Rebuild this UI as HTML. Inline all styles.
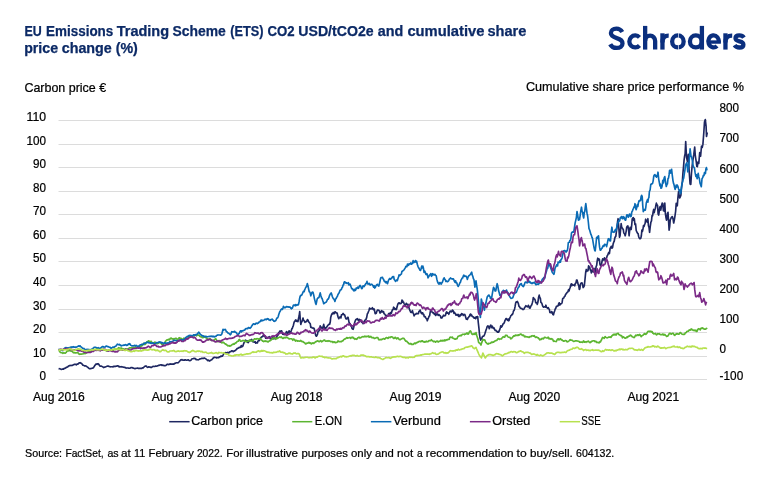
<!DOCTYPE html>
<html lang="en"><head><meta charset="utf-8"><title>EU ETS carbon price and cumulative share price change</title>
<style>html,body{margin:0;padding:0;background:#fff;}body{width:770px;height:482px;overflow:hidden;font-family:"Liberation Sans", sans-serif;}svg{display:block;will-change:transform;}text{font-family:"Liberation Sans", sans-serif;}</style>
</head><body>
<svg width="770" height="482" viewBox="0 0 770 482">
<rect width="770" height="482" fill="#ffffff"/>
<text x="24.4" y="35.7" font-size="13.80" fill="#0c2a66" text-anchor="start" font-weight="bold" textLength="17.3" lengthAdjust="spacingAndGlyphs" stroke="#0c2a66" stroke-width="0.25">EU</text>
<text x="46.1" y="35.7" font-size="13.80" fill="#0c2a66" text-anchor="start" font-weight="bold" textLength="67.2" lengthAdjust="spacingAndGlyphs" stroke="#0c2a66" stroke-width="0.25">Emissions</text>
<text x="116.7" y="35.7" font-size="13.80" fill="#0c2a66" text-anchor="start" font-weight="bold" textLength="52.4" lengthAdjust="spacingAndGlyphs" stroke="#0c2a66" stroke-width="0.25">Trading</text>
<text x="172.5" y="35.7" font-size="13.80" fill="#0c2a66" text-anchor="start" font-weight="bold" textLength="53.3" lengthAdjust="spacingAndGlyphs" stroke="#0c2a66" stroke-width="0.25">Scheme</text>
<text x="230.3" y="35.7" font-size="13.80" fill="#0c2a66" text-anchor="start" font-weight="bold" textLength="33.3" lengthAdjust="spacingAndGlyphs" stroke="#0c2a66" stroke-width="0.25">(ETS)</text>
<text x="267.5" y="35.7" font-size="13.80" fill="#0c2a66" text-anchor="start" font-weight="bold" textLength="27.1" lengthAdjust="spacingAndGlyphs" stroke="#0c2a66" stroke-width="0.25">CO2</text>
<text x="298.3" y="35.7" font-size="13.80" fill="#0c2a66" text-anchor="start" font-weight="bold" textLength="75.3" lengthAdjust="spacingAndGlyphs" stroke="#0c2a66" stroke-width="0.25">USD/tCO2e</text>
<text x="377.8" y="35.7" font-size="13.80" fill="#0c2a66" text-anchor="start" font-weight="bold" textLength="25.5" lengthAdjust="spacingAndGlyphs" stroke="#0c2a66" stroke-width="0.25">and</text>
<text x="407.4" y="35.7" font-size="13.80" fill="#0c2a66" text-anchor="start" font-weight="bold" textLength="77.0" lengthAdjust="spacingAndGlyphs" stroke="#0c2a66" stroke-width="0.25">cumulative</text>
<text x="487.4" y="35.7" font-size="13.80" fill="#0c2a66" text-anchor="start" font-weight="bold" textLength="38.9" lengthAdjust="spacingAndGlyphs" stroke="#0c2a66" stroke-width="0.25">share</text>
<text x="24.2" y="53.2" font-size="13.80" fill="#0c2a66" text-anchor="start" font-weight="bold" textLength="33.9" lengthAdjust="spacingAndGlyphs" stroke="#0c2a66" stroke-width="0.25">price</text>
<text x="61.7" y="53.2" font-size="13.80" fill="#0c2a66" text-anchor="start" font-weight="bold" textLength="50.1" lengthAdjust="spacingAndGlyphs" stroke="#0c2a66" stroke-width="0.25">change</text>
<text x="115.7" y="53.2" font-size="13.80" fill="#0c2a66" text-anchor="start" font-weight="bold" textLength="22.2" lengthAdjust="spacingAndGlyphs" stroke="#0c2a66" stroke-width="0.25">(%)</text>
<g fill="none" stroke="#0b2f7e" stroke-width="4.30" stroke-linecap="butt" stroke-linejoin="round">
<path d="M622.3,32.0 C621.0,29.8 619.0,28.55 616.4,28.55 C613.1,28.55 610.9,30.4 610.9,33.1 C610.9,36.0 613.2,37.1 616.7,38.1 C620.3,39.1 622.5,40.4 622.5,43.4 C622.5,46.2 620.1,47.95 616.6,47.95 C613.6,47.95 611.4,46.6 610.2,44.2"/>
<path d="M639.48,37.36 A5.85,6.00 0 1 0 639.48,45.54"/>
<path d="M645.15,25.9 L645.15,49.6"/>
<path d="M645.15,41.0 A5,5.4 0 0 1 655.15,41.0 L655.15,49.6"/>
<path d="M662.45,33.3 L662.45,49.6"/>
<path d="M662.45,42.5 C662.45,37.6 664.8,35.5 668.7,35.6"/>
<ellipse cx="677.9" cy="41.45" rx="5.75" ry="6.00"/>
<ellipse cx="695.8" cy="41.45" rx="5.85" ry="6.00"/>
<path d="M701.9,25.9 L701.9,49.6"/>
<path d="M718.75,42.45 A5.25,6.00 0 1 0 717.01,45.91"/>
<path d="M708.25,42.05 L720.85,42.05" stroke-width="3.4"/>
<path d="M725.45,33.3 L725.45,49.6"/>
<path d="M725.45,42.5 C725.45,37.6 727.8,35.5 732.2,35.6"/>
<path d="M743.9,37.6 C742.9,36.1 741.3,35.45 739.3,35.45 C736.9,35.45 735.5,36.6 735.5,38.3 C735.5,40.2 737.0,40.8 739.5,41.4 C742.0,42.0 743.4,42.9 743.4,44.7 C743.4,46.5 741.8,47.5 739.4,47.5 C737.3,47.5 735.6,46.7 734.6,45.1"/>
</g>
<rect x="678.1" y="33" width="0.65" height="4.8" fill="#fff"/>
<rect x="678.1" y="45.1" width="0.65" height="4.8" fill="#fff"/>
<text x="24.4" y="91.9" font-size="12.20" fill="#000" text-anchor="start" font-weight="normal" textLength="81.8" lengthAdjust="spacingAndGlyphs" stroke="#000" stroke-width="0.22">Carbon price €</text>
<text x="525.9" y="91.2" font-size="12.20" fill="#000" text-anchor="start" font-weight="normal" textLength="218.0" lengthAdjust="spacingAndGlyphs" stroke="#000" stroke-width="0.22">Cumulative share price performance %</text>
<line x1="58.5" x2="707" y1="120.5" y2="120.5" stroke="#dcdcdc" stroke-width="1"/>
<line x1="58.5" x2="707" y1="144.5" y2="144.5" stroke="#dcdcdc" stroke-width="1"/>
<line x1="58.5" x2="707" y1="167.5" y2="167.5" stroke="#dcdcdc" stroke-width="1"/>
<line x1="58.5" x2="707" y1="191.5" y2="191.5" stroke="#dcdcdc" stroke-width="1"/>
<line x1="58.5" x2="707" y1="214.5" y2="214.5" stroke="#dcdcdc" stroke-width="1"/>
<line x1="58.5" x2="707" y1="238.5" y2="238.5" stroke="#dcdcdc" stroke-width="1"/>
<line x1="58.5" x2="707" y1="261.5" y2="261.5" stroke="#dcdcdc" stroke-width="1"/>
<line x1="58.5" x2="707" y1="285.5" y2="285.5" stroke="#dcdcdc" stroke-width="1"/>
<line x1="58.5" x2="707" y1="309.5" y2="309.5" stroke="#dcdcdc" stroke-width="1"/>
<line x1="58.5" x2="707" y1="332.5" y2="332.5" stroke="#dcdcdc" stroke-width="1"/>
<line x1="58.5" x2="707" y1="356.5" y2="356.5" stroke="#dcdcdc" stroke-width="1"/>
<line x1="58.5" x2="707" y1="379.5" y2="379.5" stroke="#dcdcdc" stroke-width="1"/>
<text x="46.1" y="121.0" font-size="12.10" fill="#000" text-anchor="end" font-weight="normal" textLength="19.5" lengthAdjust="spacingAndGlyphs" stroke="#000" stroke-width="0.22">110</text>
<text x="46.1" y="145.0" font-size="12.10" fill="#000" text-anchor="end" font-weight="normal" textLength="19.5" lengthAdjust="spacingAndGlyphs" stroke="#000" stroke-width="0.22">100</text>
<text x="46.1" y="168.0" font-size="12.10" fill="#000" text-anchor="end" font-weight="normal" textLength="13.0" lengthAdjust="spacingAndGlyphs" stroke="#000" stroke-width="0.22">90</text>
<text x="46.1" y="192.0" font-size="12.10" fill="#000" text-anchor="end" font-weight="normal" textLength="13.0" lengthAdjust="spacingAndGlyphs" stroke="#000" stroke-width="0.22">80</text>
<text x="46.1" y="215.0" font-size="12.10" fill="#000" text-anchor="end" font-weight="normal" textLength="13.0" lengthAdjust="spacingAndGlyphs" stroke="#000" stroke-width="0.22">70</text>
<text x="46.1" y="239.0" font-size="12.10" fill="#000" text-anchor="end" font-weight="normal" textLength="13.0" lengthAdjust="spacingAndGlyphs" stroke="#000" stroke-width="0.22">60</text>
<text x="46.1" y="262.0" font-size="12.10" fill="#000" text-anchor="end" font-weight="normal" textLength="13.0" lengthAdjust="spacingAndGlyphs" stroke="#000" stroke-width="0.22">50</text>
<text x="46.1" y="286.0" font-size="12.10" fill="#000" text-anchor="end" font-weight="normal" textLength="13.0" lengthAdjust="spacingAndGlyphs" stroke="#000" stroke-width="0.22">40</text>
<text x="46.1" y="310.0" font-size="12.10" fill="#000" text-anchor="end" font-weight="normal" textLength="13.0" lengthAdjust="spacingAndGlyphs" stroke="#000" stroke-width="0.22">30</text>
<text x="46.1" y="333.0" font-size="12.10" fill="#000" text-anchor="end" font-weight="normal" textLength="13.0" lengthAdjust="spacingAndGlyphs" stroke="#000" stroke-width="0.22">20</text>
<text x="46.1" y="357.0" font-size="12.10" fill="#000" text-anchor="end" font-weight="normal" textLength="13.0" lengthAdjust="spacingAndGlyphs" stroke="#000" stroke-width="0.22">10</text>
<text x="46.1" y="380.0" font-size="12.10" fill="#000" text-anchor="end" font-weight="normal" textLength="6.5" lengthAdjust="spacingAndGlyphs" stroke="#000" stroke-width="0.22">0</text>
<text x="719.6" y="111.9" font-size="12.10" fill="#000" text-anchor="start" font-weight="normal" textLength="19.5" lengthAdjust="spacingAndGlyphs" stroke="#000" stroke-width="0.22">800</text>
<text x="719.6" y="141.8" font-size="12.10" fill="#000" text-anchor="start" font-weight="normal" textLength="19.5" lengthAdjust="spacingAndGlyphs" stroke="#000" stroke-width="0.22">700</text>
<text x="719.6" y="172.8" font-size="12.10" fill="#000" text-anchor="start" font-weight="normal" textLength="19.5" lengthAdjust="spacingAndGlyphs" stroke="#000" stroke-width="0.22">600</text>
<text x="719.6" y="202.9" font-size="12.10" fill="#000" text-anchor="start" font-weight="normal" textLength="19.5" lengthAdjust="spacingAndGlyphs" stroke="#000" stroke-width="0.22">500</text>
<text x="719.6" y="232.8" font-size="12.10" fill="#000" text-anchor="start" font-weight="normal" textLength="19.5" lengthAdjust="spacingAndGlyphs" stroke="#000" stroke-width="0.22">400</text>
<text x="719.6" y="263.0" font-size="12.10" fill="#000" text-anchor="start" font-weight="normal" textLength="19.5" lengthAdjust="spacingAndGlyphs" stroke="#000" stroke-width="0.22">300</text>
<text x="719.6" y="293.1" font-size="12.10" fill="#000" text-anchor="start" font-weight="normal" textLength="19.5" lengthAdjust="spacingAndGlyphs" stroke="#000" stroke-width="0.22">200</text>
<text x="719.6" y="323.0" font-size="12.10" fill="#000" text-anchor="start" font-weight="normal" textLength="19.5" lengthAdjust="spacingAndGlyphs" stroke="#000" stroke-width="0.22">100</text>
<text x="719.6" y="352.9" font-size="12.10" fill="#000" text-anchor="start" font-weight="normal" textLength="6.5" lengthAdjust="spacingAndGlyphs" stroke="#000" stroke-width="0.22">0</text>
<text x="719.6" y="379.8" font-size="12.10" fill="#000" text-anchor="start" font-weight="normal" textLength="23.6" lengthAdjust="spacingAndGlyphs" stroke="#000" stroke-width="0.22">-100</text>
<text x="58.8" y="400.5" font-size="12.20" fill="#000" text-anchor="middle" font-weight="normal" textLength="51.8" lengthAdjust="spacingAndGlyphs" stroke="#000" stroke-width="0.22">Aug 2016</text>
<text x="177.7" y="400.5" font-size="12.20" fill="#000" text-anchor="middle" font-weight="normal" textLength="51.8" lengthAdjust="spacingAndGlyphs" stroke="#000" stroke-width="0.22">Aug 2017</text>
<text x="296.6" y="400.5" font-size="12.20" fill="#000" text-anchor="middle" font-weight="normal" textLength="51.8" lengthAdjust="spacingAndGlyphs" stroke="#000" stroke-width="0.22">Aug 2018</text>
<text x="415.5" y="400.5" font-size="12.20" fill="#000" text-anchor="middle" font-weight="normal" textLength="51.8" lengthAdjust="spacingAndGlyphs" stroke="#000" stroke-width="0.22">Aug 2019</text>
<text x="534.4" y="400.5" font-size="12.20" fill="#000" text-anchor="middle" font-weight="normal" textLength="51.8" lengthAdjust="spacingAndGlyphs" stroke="#000" stroke-width="0.22">Aug 2020</text>
<text x="653.3" y="400.5" font-size="12.20" fill="#000" text-anchor="middle" font-weight="normal" textLength="51.8" lengthAdjust="spacingAndGlyphs" stroke="#000" stroke-width="0.22">Aug 2021</text>
<path d="M58.60 368.40 L59.16 368.64 L59.72 368.85 L60.28 369.05 L60.84 369.16 L61.40 369.40 L61.91 369.25 L62.43 369.28 L62.94 368.95 L63.46 369.26 L63.97 368.52 L64.49 368.38 L65.00 368.40 L65.54 368.04 L66.08 367.57 L66.61 367.24 L67.15 367.06 L67.69 367.01 L68.22 366.35 L68.76 366.08 L69.30 365.60 L69.84 365.74 L70.38 365.50 L70.91 365.42 L71.45 365.58 L71.99 365.38 L72.52 365.32 L73.06 365.00 L73.60 364.80 L74.14 364.42 L74.67 364.31 L75.21 364.29 L75.75 364.22 L76.29 364.90 L76.83 364.41 L77.36 363.93 L77.90 364.10 L78.45 363.63 L79.00 363.04 L79.55 362.73 L80.10 362.70 L80.66 363.07 L81.22 363.19 L81.78 363.65 L82.34 364.48 L82.90 365.10 L83.48 365.29 L84.06 365.61 L84.64 365.92 L85.22 365.75 L85.80 366.10 L86.31 366.30 L86.83 366.64 L87.34 366.91 L87.86 367.33 L88.37 367.92 L88.89 368.27 L89.40 368.70 L89.91 368.74 L90.43 368.71 L90.94 368.45 L91.46 368.48 L91.97 368.27 L92.49 368.09 L93.00 368.00 L93.56 367.56 L94.12 366.62 L94.68 365.78 L95.24 365.07 L95.80 364.10 L96.35 364.06 L96.90 364.33 L97.45 363.77 L98.00 363.70 L98.53 363.94 L99.05 364.92 L99.57 365.51 L100.10 366.10 L100.61 366.23 L101.13 366.15 L101.64 366.33 L102.16 366.56 L102.67 366.73 L103.19 367.28 L103.70 367.60 L104.24 367.30 L104.78 367.10 L105.31 367.05 L105.85 366.67 L106.39 366.51 L106.92 366.26 L107.46 366.18 L108.00 366.10 L108.54 366.10 L109.08 366.55 L109.61 366.57 L110.15 366.88 L110.69 366.79 L111.22 366.73 L111.76 366.74 L112.30 366.80 L112.82 366.86 L113.34 366.41 L113.85 366.66 L114.37 366.27 L114.89 366.49 L115.41 366.41 L115.93 366.18 L116.45 366.26 L116.96 366.02 L117.48 365.90 L118.00 365.80 L118.54 366.54 L119.08 366.36 L119.61 366.85 L120.15 366.84 L120.69 366.73 L121.22 366.66 L121.76 366.99 L122.30 367.00 L122.84 366.90 L123.38 367.11 L123.91 367.24 L124.45 367.53 L124.99 367.37 L125.52 367.75 L126.06 368.07 L126.60 368.00 L127.13 367.94 L127.65 368.04 L128.18 368.00 L128.71 368.16 L129.24 368.29 L129.76 368.29 L130.29 368.06 L130.82 367.65 L131.35 367.72 L131.87 367.46 L132.40 367.70 L132.91 368.08 L133.41 368.11 L133.92 368.30 L134.42 368.57 L134.93 368.75 L135.44 368.53 L135.94 368.34 L136.45 368.26 L136.95 368.29 L137.46 368.13 L137.96 368.18 L138.47 368.45 L138.98 368.39 L139.48 368.40 L139.99 368.22 L140.49 368.21 L141.00 368.40 L141.54 368.39 L142.07 368.17 L142.61 367.74 L143.15 367.88 L143.69 367.18 L144.23 366.81 L144.76 366.37 L145.30 366.10 L145.81 366.17 L146.31 366.01 L146.82 366.78 L147.33 367.20 L147.84 367.33 L148.34 367.16 L148.85 366.75 L149.36 366.96 L149.86 367.10 L150.37 367.15 L150.88 367.42 L151.39 367.47 L151.89 367.09 L152.40 366.60 L152.93 366.45 L153.45 366.41 L153.98 366.48 L154.51 366.48 L155.04 366.37 L155.56 366.11 L156.09 366.17 L156.62 366.28 L157.15 366.07 L157.67 365.77 L158.20 365.60 L158.74 365.31 L159.27 365.33 L159.81 364.99 L160.35 365.03 L160.89 364.78 L161.43 364.86 L161.96 365.42 L162.50 365.10 L163.03 365.03 L163.57 365.54 L164.10 365.67 L164.63 365.63 L165.17 365.66 L165.70 365.50 L166.23 365.16 L166.75 364.52 L167.28 364.34 L167.81 364.19 L168.34 364.48 L168.86 364.56 L169.39 364.16 L169.92 364.29 L170.45 363.96 L170.97 364.28 L171.50 364.00 L172.04 364.17 L172.57 364.14 L173.11 363.94 L173.65 364.18 L174.19 364.05 L174.73 363.29 L175.26 363.34 L175.80 363.00 L176.36 362.76 L176.92 362.71 L177.48 362.81 L178.04 362.74 L178.60 362.30 L179.15 361.71 L179.70 360.97 L180.25 360.51 L180.80 359.90 L181.31 360.00 L181.83 359.59 L182.34 359.75 L182.86 360.20 L183.37 360.20 L183.89 359.96 L184.40 360.20 L184.94 359.84 L185.47 359.75 L186.01 360.14 L186.55 360.28 L187.09 360.16 L187.62 360.00 L188.16 359.76 L188.70 360.20 L189.24 360.55 L189.77 360.73 L190.31 360.42 L190.85 360.22 L191.39 359.59 L191.93 358.87 L192.46 358.78 L193.00 358.70 L193.53 358.48 L194.05 358.27 L194.57 358.64 L195.10 358.40 L195.62 359.04 L196.15 359.72 L196.67 359.57 L197.20 359.70 L197.74 359.76 L198.27 359.84 L198.81 359.57 L199.35 359.25 L199.89 358.88 L200.43 358.81 L200.96 358.76 L201.50 358.40 L202.04 358.32 L202.57 358.39 L203.11 358.43 L203.65 358.38 L204.19 358.01 L204.73 358.15 L205.26 358.55 L205.80 358.70 L206.31 359.33 L206.82 359.65 L207.33 360.09 L207.84 360.58 L208.35 360.05 L208.86 360.48 L209.37 361.04 L209.88 360.82 L210.39 360.36 L210.90 360.20 L211.40 359.83 L211.90 359.68 L212.40 358.86 L212.90 358.52 L213.40 357.81 L213.90 357.63 L214.40 357.30 L214.94 357.52 L215.47 357.46 L216.01 357.42 L216.55 357.92 L217.09 357.62 L217.62 357.75 L218.16 357.67 L218.70 357.70 L219.24 356.89 L219.77 356.84 L220.31 356.71 L220.85 356.09 L221.39 356.38 L221.93 355.96 L222.46 356.07 L223.00 355.10 L223.55 354.05 L224.10 352.95 L224.65 353.07 L225.20 352.70 L225.71 352.57 L226.23 352.73 L226.74 352.72 L227.26 352.70 L227.77 352.31 L228.29 352.78 L228.80 353.00 L229.36 352.15 L229.92 351.84 L230.48 351.80 L231.04 351.44 L231.60 350.80 L232.14 350.86 L232.68 350.97 L233.21 351.71 L233.75 351.18 L234.29 351.10 L234.82 350.84 L235.36 350.33 L235.90 350.10 L236.41 349.38 L236.93 348.95 L237.44 348.21 L237.96 348.34 L238.47 348.11 L238.99 347.57 L239.50 347.30 L240.08 347.51 L240.66 347.18 L241.24 345.61 L241.82 346.80 L242.40 346.50 L242.96 345.85 L243.52 344.04 L244.08 342.61 L244.64 341.50 L245.20 340.50 L245.71 340.22 L246.23 341.51 L246.74 341.08 L247.26 340.90 L247.77 342.40 L248.29 342.56 L248.80 341.50 L249.38 340.89 L249.96 340.21 L250.54 340.08 L251.12 340.38 L251.70 339.40 L252.28 340.93 L252.86 341.74 L253.44 341.88 L254.02 342.06 L254.60 342.20 L255.16 341.62 L255.72 343.08 L256.28 343.05 L256.84 342.63 L257.40 343.00 L257.98 341.04 L258.56 340.61 L259.14 340.75 L259.72 339.92 L260.30 338.70 L260.88 337.54 L261.46 337.01 L262.04 336.78 L262.62 336.62 L263.20 335.40 L263.70 336.00 L264.20 335.30 L264.70 335.86 L265.20 336.99 L265.70 338.21 L266.20 337.91 L266.70 337.20 L267.22 338.30 L267.74 337.92 L268.26 337.34 L268.78 337.19 L269.30 336.60 L269.84 337.70 L270.38 338.83 L270.91 339.00 L271.45 338.66 L271.99 338.95 L272.53 337.27 L273.06 338.59 L273.60 338.80 L274.14 338.04 L274.68 338.31 L275.21 338.78 L275.75 338.51 L276.29 337.81 L276.82 336.52 L277.36 335.81 L277.90 335.20 L278.44 333.22 L278.97 332.33 L279.51 331.83 L280.05 330.85 L280.59 331.78 L281.12 331.10 L281.66 330.79 L282.20 333.00 L282.74 334.27 L283.27 334.26 L283.81 334.49 L284.35 334.26 L284.89 334.36 L285.43 334.12 L285.96 332.83 L286.50 331.60 L287.01 331.97 L287.53 333.16 L288.04 333.08 L288.56 332.01 L289.07 330.74 L289.59 331.72 L290.10 333.00 L290.66 332.40 L291.22 330.82 L291.78 328.91 L292.34 328.34 L292.90 326.60 L293.45 325.19 L294.00 322.57 L294.55 321.49 L295.10 320.80 L295.68 319.84 L296.26 321.29 L296.84 320.34 L297.42 321.46 L298.00 321.60 L298.57 318.25 L299.13 316.00 L299.70 311.50 L300.25 319.05 L300.80 324.40 L301.35 322.51 L301.90 321.56 L302.45 320.34 L303.00 318.00 L303.52 320.24 L304.05 320.48 L304.58 321.81 L305.10 322.30 L305.68 321.64 L306.26 321.77 L306.84 321.05 L307.42 319.55 L308.00 320.10 L308.56 321.87 L309.12 322.25 L309.68 323.00 L310.24 323.69 L310.80 327.30 L311.38 327.00 L311.96 327.90 L312.54 328.05 L313.12 328.31 L313.70 328.00 L314.25 328.73 L314.80 331.13 L315.35 333.93 L315.90 335.90 L316.42 336.20 L316.95 335.34 L317.48 334.36 L318.00 331.60 L318.55 331.18 L319.10 330.87 L319.65 328.34 L320.20 325.90 L320.73 327.60 L321.25 327.16 L321.77 328.18 L322.30 328.70 L323.00 327.18 L323.70 324.40 L324.20 326.83 L324.70 328.52 L325.20 328.70 L325.76 327.64 L326.32 327.94 L326.88 326.81 L327.44 326.09 L328.00 325.10 L328.55 324.72 L329.10 324.21 L329.65 324.31 L330.20 322.30 L330.70 317.58 L331.20 315.80 L331.72 314.26 L332.24 313.26 L332.76 313.99 L333.28 312.41 L333.80 313.40 L334.36 313.71 L334.92 311.73 L335.48 312.04 L336.04 312.52 L336.60 313.00 L337.15 312.96 L337.70 315.84 L338.25 317.57 L338.80 318.70 L339.32 317.66 L339.85 317.01 L340.38 316.92 L340.90 318.00 L341.45 314.83 L342.00 314.69 L342.55 314.49 L343.10 313.40 L343.66 314.62 L344.22 314.69 L344.78 315.18 L345.34 317.28 L345.90 318.70 L346.45 318.98 L347.00 318.75 L347.55 317.30 L348.10 317.30 L348.62 320.07 L349.15 322.83 L349.68 324.35 L350.20 323.70 L350.78 325.82 L351.36 325.48 L351.94 328.40 L352.52 329.05 L353.10 329.40 L353.65 327.46 L354.20 325.05 L354.75 322.24 L355.30 320.80 L355.82 319.62 L356.35 319.38 L356.88 318.99 L357.40 318.70 L357.98 319.78 L358.56 320.86 L359.14 319.41 L359.72 319.45 L360.30 320.10 L360.86 320.10 L361.42 321.86 L361.98 322.38 L362.54 322.23 L363.10 323.70 L363.68 322.39 L364.26 321.33 L364.84 320.58 L365.42 319.60 L366.00 319.40 L366.70 317.37 L367.40 313.70 L367.95 312.95 L368.50 311.48 L369.05 310.23 L369.60 308.00 L370.16 309.00 L370.72 308.84 L371.28 308.81 L371.84 308.44 L372.40 307.70 L372.95 309.12 L373.50 309.66 L374.05 308.82 L374.60 310.83 L375.15 313.58 L375.70 313.60 L376.25 313.33 L376.80 311.37 L377.35 310.31 L377.90 310.00 L378.42 310.27 L378.95 310.40 L379.48 311.15 L380.00 312.90 L380.58 312.81 L381.16 311.31 L381.74 310.65 L382.32 312.01 L382.90 311.50 L383.48 311.53 L384.06 313.69 L384.64 313.91 L385.22 314.83 L385.80 315.80 L386.36 315.45 L386.92 316.18 L387.48 316.16 L388.04 315.84 L388.60 313.60 L389.18 314.21 L389.76 314.70 L390.34 312.47 L390.92 313.64 L391.50 312.90 L392.02 310.82 L392.55 309.53 L393.08 309.59 L393.60 307.20 L394.18 307.89 L394.76 309.30 L395.34 308.61 L395.92 309.70 L396.50 309.30 L397.08 306.75 L397.66 304.87 L398.24 303.32 L398.82 302.88 L399.40 302.90 L399.91 303.68 L400.43 303.57 L400.94 303.40 L401.46 302.85 L401.97 300.15 L402.49 300.44 L403.00 302.20 L403.52 302.05 L404.05 303.48 L404.58 304.69 L405.10 305.70 L405.68 304.79 L406.26 303.38 L406.84 303.98 L407.42 304.79 L408.00 304.30 L408.52 306.77 L409.05 307.94 L409.58 309.71 L410.10 310.80 L410.68 312.21 L411.26 312.46 L411.84 312.34 L412.42 310.61 L413.00 312.90 L413.54 313.81 L414.07 315.84 L414.61 314.60 L415.15 314.45 L415.69 314.21 L416.23 313.42 L416.76 313.55 L417.30 313.60 L417.86 313.76 L418.42 313.66 L418.98 311.27 L419.54 311.24 L420.10 310.00 L420.61 311.70 L421.13 312.78 L421.64 313.72 L422.16 312.75 L422.67 312.86 L423.19 314.39 L423.70 314.30 L424.21 316.63 L424.73 316.39 L425.24 316.69 L425.76 317.88 L426.27 318.63 L426.79 318.87 L427.30 320.80 L427.88 319.10 L428.46 317.89 L429.04 316.26 L429.62 315.85 L430.20 312.20 L430.76 309.96 L431.32 310.47 L431.88 311.97 L432.44 312.22 L433.00 312.90 L433.54 312.67 L434.07 313.82 L434.61 314.37 L435.15 313.59 L435.69 315.43 L436.23 314.81 L436.76 312.97 L437.30 314.30 L437.81 314.72 L438.33 315.37 L438.84 314.37 L439.36 315.20 L439.87 315.58 L440.39 315.86 L440.90 317.90 L441.41 317.49 L441.93 318.01 L442.44 316.90 L442.96 316.42 L443.47 315.22 L443.99 315.41 L444.50 315.80 L445.04 315.71 L445.57 314.98 L446.11 312.77 L446.65 311.83 L447.19 313.18 L447.73 312.86 L448.26 312.97 L448.80 314.30 L449.31 313.00 L449.83 311.77 L450.34 311.04 L450.86 311.18 L451.37 311.92 L451.89 311.56 L452.40 310.00 L452.91 310.62 L453.43 311.31 L453.94 313.34 L454.46 312.41 L454.97 313.31 L455.49 313.93 L456.00 315.10 L456.50 314.60 L457.00 315.15 L457.50 314.70 L458.00 314.28 L458.50 316.38 L459.00 314.93 L459.50 316.50 L460.05 316.05 L460.60 314.71 L461.15 315.02 L461.70 313.60 L462.22 314.08 L462.74 313.97 L463.25 315.45 L463.77 314.68 L464.29 314.79 L464.81 314.46 L465.33 315.94 L465.85 317.66 L466.36 319.28 L466.88 319.23 L467.40 319.40 L467.94 317.81 L468.47 317.70 L469.01 316.52 L469.55 316.12 L470.09 314.35 L470.62 314.03 L471.16 315.72 L471.70 315.10 L472.28 316.46 L472.86 316.70 L473.44 317.02 L474.02 318.16 L474.60 317.90 L475.12 317.52 L475.63 318.72 L476.15 316.90 L476.67 317.74 L477.18 316.57 L477.70 316.50 L478.30 322.71 L478.90 327.90 L479.45 333.78 L480.00 338.00 L480.70 340.10 L481.20 338.52 L481.70 338.74 L482.20 337.20 L482.73 336.26 L483.25 336.23 L483.77 336.18 L484.30 335.10 L484.85 333.71 L485.40 331.90 L485.95 330.20 L486.50 328.70 L487.20 326.51 L487.90 325.80 L488.60 326.55 L489.30 328.70 L489.80 327.56 L490.30 325.58 L490.80 325.10 L491.32 326.35 L491.85 327.76 L492.38 326.17 L492.90 327.90 L493.48 328.29 L494.06 327.94 L494.64 329.61 L495.22 330.42 L495.80 330.10 L496.36 331.10 L496.92 331.49 L497.48 332.10 L498.04 331.49 L498.60 332.20 L499.15 331.20 L499.70 329.63 L500.25 327.89 L500.80 325.80 L501.38 327.14 L501.96 326.54 L502.54 325.10 L503.12 323.87 L503.70 323.60 L504.26 322.87 L504.82 320.96 L505.38 319.77 L505.94 318.58 L506.50 318.60 L507.05 319.77 L507.60 320.28 L508.15 319.05 L508.70 320.80 L509.23 320.09 L509.75 318.03 L510.27 317.10 L510.80 315.80 L511.35 315.17 L511.90 314.44 L512.45 314.57 L513.00 312.90 L513.52 310.89 L514.05 310.55 L514.58 308.92 L515.10 306.40 L515.65 303.01 L516.20 301.75 L516.75 302.23 L517.30 301.40 L517.86 302.39 L518.42 303.72 L518.98 306.34 L519.54 306.50 L520.10 307.90 L520.68 308.26 L521.26 308.47 L521.84 308.44 L522.42 309.41 L523.00 309.30 L523.58 309.39 L524.16 308.70 L524.74 307.39 L525.32 306.69 L525.90 305.70 L526.40 306.42 L526.90 306.29 L527.40 306.79 L527.90 306.45 L528.40 305.27 L528.90 306.28 L529.40 307.90 L529.98 308.25 L530.56 306.92 L531.14 305.50 L531.72 304.95 L532.30 302.90 L532.80 300.95 L533.30 297.50 L533.93 298.66 L534.57 298.92 L535.20 300.20 L535.73 302.75 L536.25 302.79 L536.77 302.74 L537.30 304.40 L537.93 302.03 L538.57 297.41 L539.20 295.10 L539.77 297.60 L540.33 298.08 L540.90 302.30 L541.42 302.75 L541.95 303.65 L542.48 305.60 L543.00 306.60 L543.58 307.16 L544.16 306.88 L544.74 306.82 L545.32 307.07 L545.90 305.20 L546.48 307.51 L547.06 307.47 L547.64 308.29 L548.22 307.61 L548.80 308.70 L549.36 309.43 L549.92 312.54 L550.48 312.00 L551.04 312.86 L551.60 311.60 L552.23 312.37 L552.87 314.47 L553.50 314.80 L554.07 312.42 L554.63 311.02 L555.20 309.00 L555.78 308.35 L556.36 306.39 L556.94 306.36 L557.52 305.87 L558.10 305.90 L558.68 303.76 L559.26 302.79 L559.84 305.10 L560.42 304.29 L561.00 303.70 L561.56 303.71 L562.12 302.47 L562.68 298.61 L563.24 298.19 L563.80 298.00 L564.38 296.47 L564.96 296.25 L565.54 294.49 L566.12 293.98 L566.70 293.00 L567.28 292.20 L567.86 292.03 L568.44 289.90 L569.02 290.95 L569.60 288.70 L570.16 287.53 L570.72 285.28 L571.28 283.74 L571.84 285.78 L572.40 284.40 L572.98 284.92 L573.56 285.28 L574.14 285.11 L574.72 285.81 L575.30 283.50 L575.90 283.10 L576.50 280.15 L577.10 280.10 L577.65 282.56 L578.20 284.39 L578.75 285.70 L579.30 289.40 L579.82 288.86 L580.35 284.55 L580.88 283.19 L581.40 283.00 L581.98 282.78 L582.56 284.78 L583.14 287.54 L583.72 286.97 L584.30 285.90 L585.00 279.28 L585.70 272.20 L586.28 269.45 L586.86 271.40 L587.44 270.36 L588.02 270.62 L588.60 265.80 L589.15 267.25 L589.70 267.14 L590.25 270.00 L590.80 270.10 L591.32 272.88 L591.85 270.15 L592.38 271.75 L592.90 268.70 L593.45 271.96 L594.00 268.37 L594.55 271.12 L595.10 274.40 L595.62 269.84 L596.15 266.36 L596.68 265.43 L597.20 260.80 L597.75 258.20 L598.30 260.07 L598.85 258.92 L599.40 259.40 L599.92 264.23 L600.45 265.51 L600.98 264.53 L601.50 264.40 L602.08 261.00 L602.66 258.88 L603.24 260.12 L603.82 259.70 L604.40 257.90 L604.96 259.74 L605.52 261.45 L606.08 258.70 L606.64 257.67 L607.20 255.80 L607.75 255.11 L608.30 253.38 L608.85 252.26 L609.40 253.60 L610.10 248.33 L610.80 247.20 L611.38 246.28 L611.96 248.19 L612.54 247.68 L613.12 244.08 L613.70 242.20 L614.23 241.24 L614.75 238.24 L615.27 236.92 L615.80 236.40 L616.60 230.10 L617.10 226.49 L617.60 221.35 L618.10 218.70 L618.80 227.45 L619.50 237.30 L620.05 235.69 L620.60 229.51 L621.15 223.65 L621.70 227.20 L622.23 227.93 L622.75 228.88 L623.27 229.32 L623.80 233.00 L624.50 233.76 L625.20 235.80 L625.70 233.59 L626.20 231.11 L626.70 227.20 L627.30 226.31 L627.90 225.94 L628.50 229.09 L629.10 235.80 L629.62 231.01 L630.14 227.41 L630.66 227.90 L631.18 229.47 L631.70 225.10 L632.22 218.95 L632.74 218.08 L633.26 217.57 L633.78 220.32 L634.30 218.70 L634.93 224.54 L635.57 223.90 L636.20 230.50 L636.83 231.84 L637.47 233.13 L638.10 233.70 L638.65 236.53 L639.20 237.97 L639.75 238.59 L640.30 238.70 L640.82 238.17 L641.35 235.74 L641.88 230.05 L642.40 231.50 L642.94 229.31 L643.48 225.56 L644.02 226.58 L644.56 224.77 L645.10 223.50 L645.66 219.20 L646.22 221.45 L646.78 220.70 L647.34 222.17 L647.90 218.70 L648.47 225.85 L649.03 227.47 L649.60 232.30 L650.23 226.59 L650.87 222.28 L651.50 220.90 L652.05 215.54 L652.60 215.87 L653.15 211.67 L653.70 209.40 L654.23 212.62 L654.75 210.02 L655.27 208.72 L655.80 205.80 L656.38 203.18 L656.96 204.72 L657.54 205.32 L658.12 213.96 L658.70 215.10 L659.23 211.41 L659.75 207.38 L660.27 206.51 L660.80 210.10 L661.50 205.84 L662.20 203.00 L662.80 203.67 L663.40 210.80 L664.10 211.03 L664.80 203.00 L665.37 213.49 L665.93 217.38 L666.50 220.20 L667.00 218.81 L667.50 213.63 L668.00 212.30 L668.55 220.75 L669.10 230.20 L669.67 226.68 L670.23 219.89 L670.80 218.70 L671.30 217.58 L671.80 216.86 L672.30 216.60 L673.00 218.69 L673.70 223.00 L674.40 219.62 L675.10 215.10 L675.65 211.09 L676.20 203.34 L676.75 206.00 L677.30 205.80 L677.93 197.54 L678.57 191.60 L679.20 195.80 L679.77 197.98 L680.33 196.71 L680.90 195.10 L681.40 188.76 L681.90 185.25 L682.40 181.00 L682.95 172.81 L683.50 167.20 L684.05 160.32 L684.60 156.20 L685.15 153.56 L685.70 141.60 L686.50 157.20 L687.40 161.70 L688.30 154.40 L689.20 171.80 L690.10 184.00 L690.80 184.42 L691.50 172.70 L692.15 165.76 L692.80 160.80 L693.30 157.67 L693.80 154.40 L694.70 147.10 L695.25 155.09 L695.80 159.00 L696.30 162.24 L696.80 166.30 L697.35 166.55 L697.90 162.20 L698.80 163.50 L699.70 152.60 L700.60 156.20 L701.50 146.20 L702.20 147.48 L702.90 144.40 L703.80 132.80 L704.50 121.90 L705.30 119.60 L706.10 126.40 L706.50 136.50 L707.30 132.40" fill="none" stroke="#1e2761" stroke-width="1.65" stroke-linejoin="round" stroke-linecap="butt"/>
<path d="M58.60 350.80 L59.16 350.86 L59.72 351.49 L60.28 352.33 L60.84 352.65 L61.40 352.70 L61.91 352.74 L62.43 352.96 L62.94 353.38 L63.46 353.05 L63.97 352.69 L64.49 352.98 L65.00 353.20 L65.58 352.90 L66.16 352.42 L66.74 351.60 L67.32 350.71 L67.90 350.80 L68.44 350.88 L68.98 350.78 L69.51 350.56 L70.05 350.78 L70.59 351.01 L71.12 351.07 L71.66 351.23 L72.20 351.50 L72.74 351.98 L73.28 352.59 L73.81 352.90 L74.35 352.53 L74.89 353.00 L75.42 352.77 L75.96 352.95 L76.50 352.70 L77.04 352.79 L77.58 352.62 L78.11 352.77 L78.65 353.92 L79.19 353.99 L79.72 354.34 L80.26 354.01 L80.80 354.00 L81.34 354.10 L81.88 353.97 L82.41 353.99 L82.95 353.91 L83.49 353.50 L84.02 353.57 L84.56 353.21 L85.10 353.70 L85.64 353.15 L86.17 352.99 L86.71 352.60 L87.25 352.52 L87.79 351.94 L88.33 351.89 L88.86 351.46 L89.40 351.50 L89.92 351.46 L90.44 351.25 L90.95 350.72 L91.47 350.73 L91.99 350.64 L92.51 350.96 L93.03 350.57 L93.55 350.51 L94.06 350.44 L94.58 350.28 L95.10 350.10 L95.62 349.97 L96.14 349.56 L96.65 348.99 L97.17 348.65 L97.69 348.67 L98.21 349.03 L98.73 349.19 L99.25 349.38 L99.76 349.47 L100.28 349.53 L100.80 349.40 L101.31 349.53 L101.81 350.03 L102.32 349.76 L102.82 349.35 L103.33 349.91 L103.84 349.85 L104.34 350.05 L104.85 350.21 L105.35 349.64 L105.86 350.38 L106.36 350.87 L106.87 350.78 L107.38 350.90 L107.88 350.79 L108.39 350.31 L108.89 350.12 L109.40 350.10 L109.91 350.35 L110.41 350.46 L110.92 350.33 L111.42 350.67 L111.93 350.24 L112.44 350.38 L112.94 350.64 L113.45 350.38 L113.95 349.57 L114.46 349.08 L114.96 349.02 L115.47 349.07 L115.98 349.49 L116.48 348.97 L116.99 348.82 L117.49 348.91 L118.00 348.70 L118.51 347.67 L119.01 347.83 L119.52 348.57 L120.02 348.80 L120.53 348.32 L121.04 348.03 L121.54 347.97 L122.05 348.77 L122.55 348.86 L123.06 348.76 L123.56 349.21 L124.07 349.04 L124.58 349.59 L125.08 349.20 L125.59 348.88 L126.09 349.01 L126.60 349.40 L127.11 349.55 L127.63 349.56 L128.14 348.79 L128.66 348.43 L129.17 348.11 L129.69 347.81 L130.20 347.94 L130.71 347.72 L131.23 347.92 L131.74 347.86 L132.26 347.64 L132.77 347.59 L133.29 347.66 L133.80 347.90 L134.31 347.60 L134.83 347.40 L135.34 346.76 L135.86 347.28 L136.37 347.74 L136.89 347.56 L137.40 347.26 L137.91 346.65 L138.43 346.61 L138.94 346.58 L139.46 347.36 L139.97 347.35 L140.49 346.92 L141.00 345.80 L141.52 346.01 L142.04 345.71 L142.55 344.66 L143.07 344.36 L143.59 343.29 L144.11 344.43 L144.63 344.55 L145.15 344.43 L145.66 343.98 L146.18 342.63 L146.70 342.20 L147.24 341.58 L147.77 341.96 L148.31 341.07 L148.85 340.74 L149.39 341.41 L149.93 342.28 L150.46 341.82 L151.00 341.20 L151.58 342.01 L152.16 342.81 L152.74 342.74 L153.32 342.82 L153.90 342.90 L154.44 342.35 L154.97 342.03 L155.51 342.58 L156.05 342.87 L156.59 343.78 L157.12 343.73 L157.66 343.65 L158.20 343.20 L158.71 343.21 L159.22 342.70 L159.72 341.97 L160.23 342.36 L160.74 343.07 L161.25 343.51 L161.76 344.17 L162.27 344.36 L162.78 344.11 L163.28 344.22 L163.79 344.12 L164.30 343.70 L164.84 342.48 L165.38 341.34 L165.91 340.87 L166.45 340.46 L166.99 339.77 L167.53 339.97 L168.06 339.59 L168.60 339.40 L169.14 339.89 L169.68 339.38 L170.21 338.29 L170.75 338.56 L171.29 338.10 L171.82 338.65 L172.36 338.71 L172.90 339.10 L173.42 339.54 L173.94 338.56 L174.45 338.97 L174.97 338.69 L175.49 338.37 L176.01 338.21 L176.53 338.65 L177.05 339.15 L177.56 339.72 L178.08 338.94 L178.60 338.70 L179.14 337.71 L179.68 337.87 L180.21 338.39 L180.75 338.22 L181.29 338.55 L181.82 338.88 L182.36 339.60 L182.90 339.40 L183.43 338.76 L183.95 338.15 L184.48 338.80 L185.01 339.13 L185.54 338.83 L186.06 338.72 L186.59 338.55 L187.12 338.43 L187.65 338.09 L188.17 337.69 L188.70 336.80 L189.22 336.29 L189.74 337.00 L190.25 337.12 L190.77 336.99 L191.29 336.70 L191.81 336.57 L192.33 336.59 L192.85 336.07 L193.36 336.01 L193.88 335.98 L194.40 335.40 L194.94 335.33 L195.47 335.14 L196.01 334.92 L196.55 335.77 L197.09 334.84 L197.62 335.05 L198.16 335.08 L198.70 335.10 L199.21 335.42 L199.73 336.31 L200.24 336.62 L200.76 336.81 L201.27 336.75 L201.79 336.95 L202.30 337.70 L202.80 337.77 L203.30 337.44 L203.80 337.06 L204.30 336.76 L204.80 336.32 L205.30 337.15 L205.80 337.60 L206.30 337.75 L206.80 338.76 L207.30 338.70 L207.82 339.30 L208.34 339.92 L208.85 339.37 L209.37 338.81 L209.89 338.57 L210.41 339.23 L210.93 340.09 L211.45 339.71 L211.96 340.44 L212.48 340.47 L213.00 340.50 L213.52 340.35 L214.04 340.32 L214.55 339.56 L215.07 339.20 L215.59 338.72 L216.11 339.07 L216.63 340.20 L217.15 341.62 L217.66 341.58 L218.18 340.88 L218.70 340.80 L219.24 340.51 L219.77 341.62 L220.31 342.05 L220.85 341.87 L221.39 342.47 L221.93 342.88 L222.46 342.28 L223.00 342.20 L223.51 342.51 L224.03 342.94 L224.54 343.43 L225.06 343.70 L225.57 344.20 L226.09 344.37 L226.60 344.40 L227.11 345.25 L227.63 345.59 L228.14 345.97 L228.66 345.49 L229.17 345.61 L229.69 346.15 L230.20 345.80 L230.71 345.83 L231.23 345.25 L231.74 345.00 L232.26 344.52 L232.77 344.20 L233.29 344.30 L233.80 343.70 L234.36 344.14 L234.92 343.54 L235.48 342.87 L236.04 342.94 L236.60 342.20 L237.18 341.43 L237.76 341.25 L238.34 341.22 L238.92 339.76 L239.50 339.40 L240.04 340.45 L240.57 341.15 L241.11 341.15 L241.65 340.97 L242.19 340.94 L242.73 340.49 L243.26 340.48 L243.80 340.50 L244.31 340.65 L244.83 341.43 L245.34 341.54 L245.86 341.06 L246.37 341.78 L246.89 341.49 L247.40 341.50 L247.94 341.30 L248.47 341.00 L249.01 340.39 L249.55 340.13 L250.09 341.03 L250.62 340.60 L251.16 340.40 L251.70 340.80 L252.20 340.86 L252.70 340.94 L253.20 341.06 L253.70 339.81 L254.20 339.10 L254.70 338.87 L255.20 338.82 L255.70 339.17 L256.20 339.11 L256.70 338.70 L257.20 338.76 L257.70 338.69 L258.20 338.85 L258.70 339.22 L259.20 339.09 L259.70 338.72 L260.20 338.34 L260.70 338.91 L261.20 339.58 L261.70 340.10 L262.22 340.61 L262.74 341.10 L263.25 341.19 L263.77 341.61 L264.29 341.19 L264.81 341.19 L265.33 340.93 L265.85 341.36 L266.36 341.18 L266.88 341.22 L267.40 341.50 L268.03 342.00 L268.67 341.48 L269.30 340.90 L269.82 341.03 L270.34 340.25 L270.85 340.21 L271.37 339.68 L271.89 339.37 L272.41 338.21 L272.93 338.31 L273.45 337.80 L273.96 337.10 L274.48 337.89 L275.00 338.00 L275.54 339.31 L276.07 339.03 L276.61 338.37 L277.15 337.93 L277.69 338.28 L278.23 337.77 L278.76 337.52 L279.30 337.30 L279.83 337.05 L280.35 337.34 L280.88 337.31 L281.41 336.89 L281.94 337.56 L282.46 338.14 L282.99 338.40 L283.52 338.16 L284.05 337.35 L284.57 337.82 L285.10 338.00 L285.62 337.41 L286.14 337.66 L286.65 337.16 L287.17 337.43 L287.69 337.78 L288.21 338.24 L288.73 338.63 L289.25 338.99 L289.76 338.69 L290.28 338.78 L290.80 338.80 L291.32 338.76 L291.84 338.98 L292.35 339.36 L292.87 340.26 L293.39 339.06 L293.91 339.34 L294.43 339.32 L294.95 340.51 L295.46 341.05 L295.98 340.33 L296.50 340.60 L297.02 340.52 L297.54 341.18 L298.05 340.85 L298.57 340.97 L299.09 341.09 L299.61 341.21 L300.13 341.11 L300.65 340.42 L301.16 340.81 L301.68 341.46 L302.20 341.60 L302.73 341.43 L303.25 341.83 L303.78 342.39 L304.31 342.61 L304.84 342.91 L305.36 343.86 L305.89 343.65 L306.42 343.70 L306.95 343.14 L307.47 343.13 L308.00 343.10 L308.52 342.65 L309.04 342.32 L309.55 343.11 L310.07 343.00 L310.59 342.93 L311.11 343.90 L311.63 343.85 L312.15 343.06 L312.66 343.22 L313.18 342.79 L313.70 343.50 L314.22 342.91 L314.74 342.62 L315.25 341.87 L315.77 341.88 L316.29 341.39 L316.81 341.32 L317.33 341.12 L317.85 340.80 L318.36 341.20 L318.88 341.60 L319.40 341.60 L319.94 341.14 L320.47 340.61 L321.01 340.70 L321.55 341.80 L322.09 341.55 L322.62 341.13 L323.16 340.76 L323.70 340.20 L324.23 339.97 L324.75 340.11 L325.28 341.04 L325.81 341.28 L326.34 341.28 L326.86 340.74 L327.39 341.08 L327.92 341.31 L328.45 340.96 L328.97 340.68 L329.50 340.90 L330.00 341.35 L330.50 341.61 L331.00 341.67 L331.50 341.48 L332.00 341.59 L332.50 341.55 L333.00 342.52 L333.50 341.96 L334.00 341.75 L334.50 342.30 L335.01 342.08 L335.53 342.64 L336.04 342.52 L336.56 342.48 L337.07 342.21 L337.59 341.46 L338.10 340.90 L338.62 341.62 L339.14 341.59 L339.65 341.55 L340.17 341.67 L340.69 341.61 L341.21 341.77 L341.73 341.30 L342.25 340.86 L342.76 341.00 L343.28 340.49 L343.80 339.50 L344.34 339.25 L344.88 338.84 L345.41 339.00 L345.95 338.50 L346.49 337.82 L347.03 337.52 L347.56 338.17 L348.10 338.00 L348.62 337.86 L349.14 337.64 L349.65 337.57 L350.17 337.82 L350.69 338.31 L351.21 337.24 L351.73 337.72 L352.25 337.49 L352.76 337.10 L353.28 338.11 L353.80 337.80 L354.33 338.78 L354.85 339.26 L355.38 338.71 L355.91 338.94 L356.44 339.30 L356.96 339.21 L357.49 337.99 L358.02 337.79 L358.55 337.67 L359.07 337.08 L359.60 338.00 L360.14 337.87 L360.68 337.66 L361.21 337.50 L361.75 337.08 L362.29 336.67 L362.82 336.72 L363.36 336.87 L363.90 336.60 L364.44 336.73 L364.97 336.17 L365.51 336.63 L366.05 336.41 L366.59 336.70 L367.12 336.40 L367.66 336.31 L368.20 336.60 L368.72 335.87 L369.25 337.08 L369.77 336.97 L370.30 336.84 L370.82 336.37 L371.35 337.11 L371.88 337.74 L372.40 337.80 L372.95 337.48 L373.50 337.61 L374.05 338.32 L374.60 338.44 L375.15 338.22 L375.70 338.00 L376.24 337.66 L376.77 337.73 L377.31 337.46 L377.85 337.52 L378.39 338.99 L378.93 339.93 L379.46 339.47 L380.00 339.70 L380.53 339.58 L381.05 339.35 L381.58 339.71 L382.11 339.39 L382.64 339.06 L383.16 338.72 L383.69 338.51 L384.22 339.00 L384.75 339.23 L385.27 338.39 L385.80 338.00 L386.32 337.52 L386.84 337.88 L387.35 337.92 L387.87 338.32 L388.39 338.22 L388.91 337.16 L389.43 337.33 L389.95 337.38 L390.46 337.58 L390.98 336.82 L391.50 336.80 L392.02 336.93 L392.54 337.05 L393.05 337.73 L393.57 338.41 L394.09 338.43 L394.61 338.03 L395.13 337.24 L395.65 337.43 L396.16 338.50 L396.68 338.96 L397.20 338.30 L397.71 337.85 L398.23 338.06 L398.74 338.90 L399.26 339.49 L399.77 339.67 L400.29 339.76 L400.80 339.22 L401.31 338.98 L401.83 338.81 L402.34 338.41 L402.86 338.43 L403.37 338.23 L403.89 338.39 L404.40 339.10 L404.94 340.04 L405.47 340.82 L406.01 341.27 L406.55 341.12 L407.09 341.63 L407.62 342.46 L408.16 342.57 L408.70 343.70 L409.24 343.66 L409.77 343.92 L410.31 343.88 L410.85 343.43 L411.39 344.44 L411.93 344.04 L412.46 344.54 L413.00 344.40 L413.51 344.20 L414.01 343.54 L414.52 343.04 L415.03 343.13 L415.54 343.67 L416.04 342.98 L416.55 342.67 L417.06 342.78 L417.56 342.17 L418.07 342.18 L418.58 341.51 L419.09 341.47 L419.59 341.35 L420.10 341.60 L420.61 341.71 L421.13 341.08 L421.64 341.33 L422.16 340.75 L422.67 341.04 L423.19 341.68 L423.70 341.90 L424.21 341.57 L424.73 342.07 L425.24 342.08 L425.76 341.44 L426.27 341.21 L426.79 341.81 L427.30 341.60 L427.81 341.67 L428.33 341.52 L428.84 340.74 L429.36 340.51 L429.87 340.68 L430.39 340.79 L430.90 340.72 L431.41 339.73 L431.93 340.31 L432.44 340.66 L432.96 341.15 L433.47 341.77 L433.99 341.57 L434.50 341.30 L435.01 341.45 L435.51 342.25 L436.02 341.45 L436.53 341.35 L437.04 341.01 L437.54 341.28 L438.05 341.98 L438.56 341.85 L439.06 341.26 L439.57 341.29 L440.08 341.15 L440.59 340.42 L441.09 340.85 L441.60 340.60 L442.11 340.96 L442.63 340.36 L443.14 340.92 L443.66 340.26 L444.17 340.80 L444.69 339.96 L445.20 340.66 L445.71 340.51 L446.23 339.78 L446.74 339.70 L447.26 339.90 L447.77 339.44 L448.29 339.23 L448.80 339.40 L449.31 339.17 L449.83 337.51 L450.34 337.15 L450.86 337.22 L451.37 337.23 L451.89 337.59 L452.40 337.10 L452.91 338.24 L453.43 338.49 L453.94 338.51 L454.46 338.91 L454.97 339.25 L455.49 339.16 L456.00 338.70 L456.52 338.84 L457.04 338.67 L457.55 337.32 L458.07 336.36 L458.59 336.23 L459.11 335.90 L459.63 335.67 L460.15 335.63 L460.66 335.33 L461.18 335.80 L461.70 335.10 L462.24 334.46 L462.77 334.21 L463.31 334.20 L463.85 334.21 L464.39 334.62 L464.93 333.93 L465.46 334.16 L466.00 334.00 L466.54 333.21 L467.07 332.92 L467.61 333.92 L468.15 334.17 L468.69 333.69 L469.23 332.07 L469.76 331.43 L470.30 330.80 L470.81 331.26 L471.33 333.05 L471.84 333.91 L472.36 334.50 L472.87 334.37 L473.39 334.11 L473.90 334.40 L474.42 333.45 L474.95 334.46 L475.48 333.54 L476.00 332.50 L476.70 335.31 L477.40 337.50 L478.00 339.26 L478.60 342.30 L479.20 342.95 L479.80 343.15 L480.40 344.09 L481.00 345.10 L481.63 342.87 L482.27 341.10 L482.90 339.40 L483.46 339.96 L484.02 339.95 L484.58 339.79 L485.14 340.73 L485.70 342.30 L486.21 342.63 L486.72 343.14 L487.23 343.86 L487.74 343.74 L488.25 344.09 L488.76 343.27 L489.27 343.45 L489.78 343.50 L490.29 343.33 L490.80 343.00 L491.34 342.28 L491.88 342.12 L492.41 342.49 L492.95 342.10 L493.49 342.13 L494.03 341.60 L494.56 341.50 L495.10 340.80 L495.64 340.74 L496.18 340.40 L496.71 340.32 L497.25 339.79 L497.79 338.98 L498.32 338.58 L498.86 338.86 L499.40 339.40 L499.94 338.90 L500.47 338.96 L501.01 339.01 L501.55 338.87 L502.09 337.74 L502.62 337.56 L503.16 336.72 L503.70 337.00 L504.26 337.09 L504.82 337.10 L505.38 335.43 L505.94 335.44 L506.50 335.50 L507.01 335.28 L507.53 336.29 L508.04 336.81 L508.56 337.20 L509.07 337.30 L509.59 337.25 L510.10 337.50 L510.60 338.82 L511.10 338.64 L511.60 338.46 L512.10 337.83 L512.60 337.21 L513.10 336.63 L513.60 335.87 L514.10 336.05 L514.60 335.62 L515.10 335.80 L515.62 335.05 L516.14 335.43 L516.65 335.30 L517.17 335.54 L517.69 335.36 L518.21 334.75 L518.73 335.29 L519.25 334.93 L519.76 334.73 L520.28 334.11 L520.80 334.10 L521.31 334.27 L521.83 334.81 L522.34 335.38 L522.86 335.39 L523.37 335.00 L523.89 335.62 L524.40 336.50 L524.90 336.86 L525.40 336.24 L525.90 336.54 L526.40 336.74 L526.90 336.87 L527.40 337.09 L527.90 336.90 L528.40 337.00 L528.90 337.48 L529.40 337.20 L529.93 336.54 L530.45 336.58 L530.98 336.77 L531.51 335.90 L532.04 335.63 L532.56 336.04 L533.09 336.05 L533.62 336.19 L534.15 335.62 L534.67 336.19 L535.20 337.20 L535.72 337.35 L536.24 337.22 L536.75 336.88 L537.27 337.59 L537.79 337.90 L538.31 337.75 L538.83 338.62 L539.35 339.26 L539.86 339.82 L540.38 339.20 L540.90 339.40 L541.42 339.32 L541.94 338.32 L542.45 338.39 L542.97 338.72 L543.49 338.84 L544.01 338.09 L544.53 337.34 L545.05 337.43 L545.56 337.54 L546.08 337.78 L546.60 338.00 L547.10 338.05 L547.60 337.94 L548.10 337.09 L548.60 337.59 L549.10 338.85 L549.60 338.72 L550.10 338.57 L550.60 339.00 L551.10 339.29 L551.60 338.70 L552.15 339.06 L552.70 339.23 L553.25 340.93 L553.80 341.30 L554.31 341.01 L554.83 341.24 L555.34 341.45 L555.86 341.45 L556.37 341.55 L556.89 340.26 L557.40 339.40 L557.90 338.98 L558.40 338.78 L558.90 340.02 L559.40 339.14 L559.90 339.35 L560.40 338.69 L560.90 339.29 L561.40 339.86 L561.90 339.56 L562.40 340.50 L562.92 340.49 L563.44 341.08 L563.95 341.19 L564.47 340.88 L564.99 340.65 L565.51 340.55 L566.03 340.80 L566.55 340.82 L567.06 341.90 L567.58 341.76 L568.10 341.50 L568.61 341.18 L569.13 340.83 L569.64 340.16 L570.16 339.71 L570.67 340.15 L571.19 340.20 L571.70 340.13 L572.21 340.31 L572.73 340.83 L573.24 341.14 L573.76 341.52 L574.27 341.27 L574.79 341.16 L575.30 340.80 L575.82 340.99 L576.34 340.83 L576.85 340.89 L577.37 341.04 L577.89 341.18 L578.41 341.28 L578.93 341.29 L579.45 342.13 L579.96 342.21 L580.48 341.98 L581.00 342.30 L581.50 342.16 L582.00 342.03 L582.50 342.42 L583.00 342.01 L583.50 340.88 L584.00 341.38 L584.50 342.22 L585.00 341.80 L585.50 341.72 L586.00 342.32 L586.50 341.73 L587.00 341.66 L587.50 341.44 L588.00 341.69 L588.50 341.11 L589.00 341.86 L589.50 342.13 L590.00 342.60 L590.50 342.52 L591.00 341.63 L591.50 341.63 L592.00 341.08 L592.50 341.16 L593.00 340.84 L593.50 340.76 L594.00 340.74 L594.50 341.17 L595.00 341.60 L595.50 341.27 L596.00 341.40 L596.50 342.21 L597.00 342.57 L597.50 342.38 L598.00 342.46 L598.50 342.44 L599.00 343.00 L599.50 342.21 L600.00 341.58 L600.50 341.80 L601.03 340.69 L601.57 339.73 L602.10 338.40 L602.61 337.43 L603.13 337.72 L603.64 337.71 L604.16 338.39 L604.67 337.22 L605.19 336.60 L605.70 337.20 L606.23 337.48 L606.75 337.68 L607.28 337.87 L607.81 337.63 L608.34 337.36 L608.86 337.11 L609.39 337.29 L609.92 336.95 L610.45 336.85 L610.97 337.36 L611.50 336.50 L612.00 335.64 L612.50 335.48 L613.00 334.88 L613.50 334.33 L614.00 335.02 L614.50 334.78 L615.00 334.09 L615.50 334.24 L616.00 335.18 L616.50 334.10 L617.06 333.68 L617.62 333.69 L618.18 333.29 L618.74 334.45 L619.30 334.70 L619.81 334.89 L620.33 335.57 L620.84 335.55 L621.36 335.63 L621.87 336.10 L622.39 337.78 L622.90 337.00 L623.43 336.93 L623.95 337.35 L624.48 337.45 L625.01 338.18 L625.54 338.12 L626.06 337.91 L626.59 337.55 L627.12 336.80 L627.65 337.38 L628.17 336.46 L628.70 336.10 L629.20 336.13 L629.70 336.03 L630.20 335.16 L630.70 335.27 L631.20 335.66 L631.70 336.05 L632.20 336.81 L632.70 337.04 L633.20 337.02 L633.70 337.50 L634.20 337.61 L634.70 336.90 L635.20 335.86 L635.70 335.08 L636.20 335.40 L636.70 335.70 L637.20 334.98 L637.70 334.80 L638.20 335.02 L638.70 335.50 L639.21 334.88 L639.71 334.48 L640.22 334.98 L640.73 336.04 L641.24 336.61 L641.74 335.72 L642.25 335.70 L642.76 335.27 L643.26 334.97 L643.77 334.34 L644.28 333.81 L644.79 333.54 L645.29 334.28 L645.80 334.40 L646.34 333.96 L646.88 333.30 L647.41 332.20 L647.95 331.39 L648.49 331.43 L649.02 331.24 L649.56 331.72 L650.10 331.20 L650.64 331.75 L651.17 331.35 L651.71 332.15 L652.25 331.70 L652.79 333.15 L653.33 333.35 L653.86 333.91 L654.40 333.70 L654.93 333.71 L655.45 333.47 L655.98 334.40 L656.51 334.83 L657.04 334.46 L657.56 333.66 L658.09 333.91 L658.62 333.93 L659.15 333.59 L659.67 334.21 L660.20 334.40 L660.74 334.73 L661.28 334.66 L661.81 334.61 L662.35 334.62 L662.89 333.99 L663.42 334.61 L663.96 335.10 L664.50 334.40 L665.02 334.60 L665.55 335.38 L666.08 335.66 L666.60 336.50 L667.10 336.28 L667.60 336.21 L668.10 335.44 L668.60 334.88 L669.10 333.81 L669.60 333.25 L670.10 333.31 L670.60 333.52 L671.10 334.10 L671.60 334.10 L672.13 333.39 L672.65 333.47 L673.18 333.23 L673.71 334.08 L674.24 335.03 L674.76 335.42 L675.29 334.62 L675.82 334.17 L676.35 334.12 L676.87 333.56 L677.40 333.70 L677.92 333.91 L678.44 334.20 L678.95 334.15 L679.47 333.46 L679.99 332.80 L680.51 332.55 L681.03 333.12 L681.55 333.82 L682.06 334.18 L682.58 334.20 L683.10 334.40 L683.64 334.26 L684.17 334.39 L684.71 334.27 L685.25 332.79 L685.79 332.74 L686.33 332.36 L686.86 331.49 L687.40 331.20 L687.94 331.26 L688.48 331.12 L689.01 329.98 L689.55 329.94 L690.09 330.16 L690.62 330.02 L691.16 328.93 L691.70 329.10 L692.21 329.71 L692.73 329.97 L693.24 330.40 L693.76 330.33 L694.27 330.08 L694.79 330.56 L695.30 330.50 L695.81 330.05 L696.33 331.47 L696.84 331.35 L697.36 330.87 L697.87 329.29 L698.39 328.79 L698.90 328.70 L699.60 329.10 L700.30 329.80 L700.88 328.22 L701.46 328.37 L702.04 327.80 L702.62 328.04 L703.20 328.70 L703.74 328.56 L704.29 329.15 L704.83 329.27 L705.37 329.11 L705.91 328.90 L706.46 328.33 L707.00 329.10" fill="none" stroke="#5cb531" stroke-width="1.65" stroke-linejoin="round" stroke-linecap="butt"/>
<path d="M58.60 349.70 L59.11 349.41 L59.63 349.64 L60.14 349.70 L60.66 349.71 L61.17 350.16 L61.69 350.33 L62.20 350.40 L62.72 350.56 L63.24 350.04 L63.75 349.29 L64.27 348.50 L64.79 347.96 L65.31 347.79 L65.83 347.68 L66.35 347.67 L66.86 347.88 L67.38 348.06 L67.90 347.90 L68.44 348.04 L68.98 347.96 L69.51 347.49 L70.05 347.47 L70.59 347.20 L71.12 346.85 L71.66 347.23 L72.20 347.20 L72.74 346.87 L73.28 346.68 L73.81 347.29 L74.35 347.04 L74.89 347.12 L75.42 347.16 L75.96 347.17 L76.50 347.20 L77.01 346.84 L77.53 346.48 L78.04 346.22 L78.56 345.90 L79.07 345.98 L79.59 346.31 L80.10 345.80 L80.62 346.63 L81.15 346.93 L81.67 347.34 L82.20 347.90 L82.78 348.41 L83.36 348.75 L83.94 348.39 L84.52 349.31 L85.10 349.70 L85.62 349.54 L86.14 349.79 L86.65 349.65 L87.17 349.25 L87.69 349.43 L88.21 349.60 L88.73 349.39 L89.25 349.68 L89.76 349.84 L90.28 349.53 L90.80 350.10 L91.34 349.76 L91.88 349.00 L92.41 348.72 L92.95 348.34 L93.49 348.23 L94.02 347.38 L94.56 347.30 L95.10 347.20 L95.61 347.36 L96.13 347.48 L96.64 347.85 L97.16 348.01 L97.67 347.98 L98.19 347.62 L98.70 347.92 L99.21 348.17 L99.73 348.20 L100.24 348.17 L100.76 348.34 L101.27 347.40 L101.79 347.43 L102.30 346.50 L102.84 346.47 L103.38 346.71 L103.91 347.25 L104.45 346.97 L104.99 347.00 L105.52 346.85 L106.06 345.97 L106.60 346.10 L107.16 346.37 L107.72 346.68 L108.28 346.63 L108.84 346.89 L109.40 347.20 L109.93 347.43 L110.45 347.32 L110.98 348.30 L111.51 347.96 L112.04 347.67 L112.56 347.45 L113.09 346.97 L113.62 347.28 L114.15 347.30 L114.67 346.66 L115.20 346.50 L115.76 346.33 L116.32 345.28 L116.88 344.77 L117.44 344.12 L118.00 344.40 L118.54 344.63 L119.08 344.55 L119.61 344.42 L120.15 345.18 L120.69 345.09 L121.22 345.98 L121.76 345.49 L122.30 345.50 L122.84 345.40 L123.38 345.14 L123.91 345.06 L124.45 345.29 L124.99 345.05 L125.52 344.53 L126.06 344.99 L126.60 345.50 L127.18 345.11 L127.76 345.08 L128.34 344.00 L128.92 344.24 L129.50 343.60 L130.01 343.90 L130.53 345.20 L131.04 345.24 L131.56 345.75 L132.07 345.87 L132.59 345.71 L133.10 345.80 L133.60 345.95 L134.10 345.55 L134.60 345.39 L135.10 345.70 L135.60 345.70 L136.10 345.30 L136.60 345.87 L137.10 345.97 L137.60 346.51 L138.10 346.20 L138.64 346.64 L139.18 346.03 L139.71 345.27 L140.25 344.98 L140.79 344.71 L141.32 344.66 L141.86 344.31 L142.40 344.40 L142.94 344.65 L143.47 344.17 L144.01 343.43 L144.55 343.04 L145.09 343.11 L145.62 343.19 L146.16 342.82 L146.70 342.20 L147.28 342.20 L147.86 342.58 L148.44 342.31 L149.02 342.81 L149.60 342.90 L150.12 343.05 L150.64 342.85 L151.15 343.40 L151.67 343.46 L152.19 342.93 L152.71 343.28 L153.23 343.15 L153.75 343.60 L154.26 343.70 L154.78 343.50 L155.30 343.60 L155.82 343.25 L156.34 342.77 L156.85 342.61 L157.37 342.76 L157.89 342.62 L158.41 342.42 L158.93 342.04 L159.45 342.09 L159.96 342.02 L160.48 342.23 L161.00 342.20 L161.52 343.15 L162.04 342.67 L162.57 342.77 L163.09 343.10 L163.61 343.57 L164.13 343.11 L164.66 342.77 L165.18 342.88 L165.70 343.40 L166.24 343.68 L166.77 342.98 L167.31 342.90 L167.85 343.22 L168.39 343.10 L168.93 342.57 L169.46 342.15 L170.00 341.50 L170.54 341.97 L171.07 341.87 L171.61 341.69 L172.15 341.34 L172.69 341.28 L173.23 340.92 L173.76 340.52 L174.30 340.50 L174.83 340.33 L175.35 340.45 L175.88 340.44 L176.41 340.85 L176.94 340.76 L177.46 340.79 L177.99 340.81 L178.52 340.41 L179.05 340.83 L179.57 340.53 L180.10 339.80 L180.62 340.10 L181.14 340.15 L181.65 339.70 L182.17 339.89 L182.69 340.08 L183.21 340.16 L183.73 339.44 L184.25 339.30 L184.76 338.64 L185.28 338.16 L185.80 337.70 L186.32 337.05 L186.84 336.99 L187.35 336.37 L187.87 336.36 L188.39 336.16 L188.91 335.62 L189.43 335.41 L189.95 335.45 L190.46 335.68 L190.98 335.29 L191.50 335.80 L192.00 335.87 L192.50 336.25 L193.00 335.44 L193.50 334.77 L194.00 335.14 L194.50 334.84 L195.00 334.87 L195.50 335.24 L196.00 334.38 L196.50 334.40 L197.05 334.36 L197.60 333.79 L198.15 332.88 L198.70 332.20 L199.22 332.63 L199.75 333.43 L200.28 334.48 L200.80 334.80 L201.31 335.13 L201.83 335.34 L202.34 335.74 L202.86 336.19 L203.37 335.76 L203.89 336.35 L204.40 336.80 L204.92 336.59 L205.44 336.74 L205.95 336.37 L206.47 336.52 L206.99 336.94 L207.51 336.70 L208.03 336.63 L208.55 336.51 L209.06 336.48 L209.58 336.40 L210.10 336.20 L210.63 336.48 L211.15 336.41 L211.68 336.07 L212.21 336.54 L212.74 336.31 L213.26 336.74 L213.79 336.21 L214.32 336.86 L214.85 336.69 L215.37 336.29 L215.90 336.50 L216.40 335.81 L216.90 335.23 L217.40 335.24 L217.90 334.92 L218.40 335.01 L218.90 334.98 L219.40 335.00 L219.90 334.96 L220.40 335.20 L220.90 335.10 L221.43 334.41 L221.95 333.66 L222.47 331.49 L223.00 329.40 L223.55 330.06 L224.10 329.67 L224.65 329.61 L225.20 329.40 L225.72 330.01 L226.25 331.60 L226.78 331.71 L227.30 332.20 L227.88 332.94 L228.46 333.15 L229.04 333.47 L229.62 334.07 L230.20 334.80 L230.72 334.43 L231.25 332.95 L231.78 331.65 L232.30 331.90 L232.88 331.71 L233.46 332.02 L234.04 331.71 L234.62 331.26 L235.20 332.20 L235.78 332.33 L236.36 332.63 L236.94 333.69 L237.52 334.44 L238.10 334.40 L238.66 333.79 L239.22 333.45 L239.78 332.04 L240.34 331.09 L240.90 330.80 L241.41 331.92 L241.93 330.88 L242.44 330.68 L242.96 330.84 L243.47 330.52 L243.99 330.21 L244.50 330.10 L245.01 329.82 L245.53 328.73 L246.04 328.64 L246.56 328.54 L247.07 328.44 L247.59 328.72 L248.10 327.90 L248.60 327.55 L249.10 327.77 L249.60 328.13 L250.10 328.33 L250.60 327.76 L251.10 327.16 L251.60 326.10 L252.10 325.53 L252.60 324.70 L253.10 324.10 L253.64 323.72 L254.17 324.04 L254.71 324.38 L255.25 324.19 L255.79 323.36 L256.32 323.17 L256.86 323.26 L257.40 323.60 L257.91 323.16 L258.43 323.06 L258.94 322.11 L259.46 321.93 L259.97 321.81 L260.49 321.03 L261.00 320.00 L261.51 320.77 L262.03 320.16 L262.54 320.59 L263.06 320.43 L263.57 320.22 L264.09 320.07 L264.60 319.80 L265.16 319.09 L265.72 319.52 L266.28 319.75 L266.84 318.98 L267.40 318.60 L267.95 319.16 L268.50 318.88 L269.05 320.03 L269.60 320.03 L270.15 320.41 L270.70 319.80 L271.24 319.46 L271.77 319.20 L272.31 319.16 L272.85 320.16 L273.39 320.32 L273.93 321.22 L274.46 321.32 L275.00 321.10 L275.55 320.71 L276.10 319.98 L276.65 318.46 L277.20 318.00 L277.73 317.68 L278.25 316.47 L278.77 314.59 L279.30 313.00 L279.81 311.66 L280.33 310.99 L280.84 309.83 L281.36 309.25 L281.87 308.88 L282.39 309.35 L282.90 308.00 L283.41 306.38 L283.93 307.50 L284.44 307.73 L284.96 307.36 L285.47 307.65 L285.99 306.85 L286.50 306.50 L287.04 306.98 L287.57 306.70 L288.11 306.77 L288.65 307.06 L289.19 307.12 L289.73 306.90 L290.26 307.25 L290.80 308.20 L291.34 308.83 L291.88 307.86 L292.41 308.12 L292.95 306.37 L293.49 304.99 L294.03 304.98 L294.56 305.07 L295.10 305.80 L295.68 304.52 L296.26 305.40 L296.84 305.03 L297.42 304.71 L298.00 305.10 L298.52 304.43 L299.05 301.92 L299.58 298.76 L300.10 296.50 L300.68 295.43 L301.26 295.51 L301.84 294.86 L302.42 293.63 L303.00 292.20 L303.56 291.29 L304.12 291.70 L304.68 289.66 L305.24 288.52 L305.80 287.20 L306.30 286.90 L306.80 285.64 L307.30 283.60 L308.00 285.88 L308.70 289.30 L309.23 291.74 L309.75 292.02 L310.27 293.31 L310.80 295.80 L311.35 293.96 L311.90 292.62 L312.45 291.99 L313.00 292.20 L313.70 294.96 L314.40 298.60 L314.97 300.68 L315.53 303.15 L316.10 304.40 L316.65 301.66 L317.20 298.95 L317.75 298.08 L318.30 297.90 L318.93 297.48 L319.57 295.27 L320.20 292.90 L320.90 295.67 L321.60 297.90 L322.12 298.49 L322.65 300.15 L323.18 301.65 L323.70 303.70 L324.28 303.37 L324.86 302.90 L325.44 302.42 L326.02 302.21 L326.60 301.50 L327.15 300.21 L327.70 299.00 L328.25 299.06 L328.80 297.90 L329.40 295.93 L330.00 294.72 L330.60 293.60 L331.17 292.95 L331.73 294.36 L332.30 296.50 L332.82 297.66 L333.34 298.61 L333.86 298.96 L334.38 299.95 L334.90 301.50 L335.50 299.28 L336.10 298.57 L336.70 297.18 L337.30 296.50 L337.88 294.66 L338.46 293.82 L339.04 293.06 L339.62 291.52 L340.20 290.00 L340.78 289.88 L341.36 289.47 L341.94 287.72 L342.52 287.13 L343.10 285.00 L343.61 284.74 L344.13 282.09 L344.64 281.78 L345.16 282.70 L345.67 282.46 L346.19 283.30 L346.70 282.90 L347.26 283.40 L347.82 283.44 L348.38 282.66 L348.94 284.95 L349.50 284.30 L350.05 284.14 L350.60 285.45 L351.15 287.09 L351.70 288.60 L352.23 288.60 L352.75 289.14 L353.27 290.12 L353.80 290.80 L354.38 289.25 L354.96 290.58 L355.54 290.28 L356.12 288.09 L356.70 288.60 L357.28 287.70 L357.86 287.21 L358.44 288.35 L359.02 287.07 L359.60 285.70 L360.12 285.41 L360.65 286.26 L361.18 287.56 L361.70 288.60 L362.28 288.39 L362.86 286.00 L363.44 285.89 L364.02 286.56 L364.60 285.70 L365.20 284.82 L365.80 283.46 L366.40 283.34 L367.00 281.40 L367.52 283.84 L368.04 284.13 L368.56 284.01 L369.08 283.27 L369.60 284.30 L370.16 285.04 L370.72 284.26 L371.28 284.20 L371.84 284.27 L372.40 285.00 L373.00 285.80 L373.60 287.20 L374.16 285.68 L374.72 288.05 L375.28 287.41 L375.84 286.16 L376.40 285.10 L376.98 284.54 L377.56 284.36 L378.14 285.82 L378.72 286.10 L379.30 284.40 L380.00 281.22 L380.70 277.90 L381.28 277.54 L381.86 277.64 L382.44 277.26 L383.02 278.77 L383.60 279.40 L384.15 280.94 L384.70 281.67 L385.25 281.37 L385.80 282.70 L386.36 281.66 L386.92 283.04 L387.48 283.65 L388.04 281.76 L388.60 280.10 L389.18 279.11 L389.76 278.47 L390.34 279.25 L390.92 278.64 L391.50 278.70 L392.02 277.62 L392.55 276.65 L393.08 277.22 L393.60 276.50 L394.23 279.46 L394.87 280.25 L395.50 281.50 L396.10 280.61 L396.70 280.00 L397.30 280.70 L397.90 278.70 L398.48 277.01 L399.06 274.87 L399.64 275.67 L400.22 275.04 L400.80 274.40 L401.38 274.08 L401.96 271.21 L402.54 271.25 L403.12 270.57 L403.70 270.10 L404.23 269.49 L404.75 268.67 L405.27 267.88 L405.80 266.50 L406.35 266.12 L406.90 266.75 L407.45 264.13 L408.00 265.00 L408.56 265.38 L409.12 263.71 L409.68 263.94 L410.24 263.92 L410.80 262.90 L411.38 264.26 L411.96 263.78 L412.54 262.93 L413.12 260.64 L413.70 262.60 L414.28 262.04 L414.86 261.60 L415.44 260.49 L416.02 262.21 L416.60 261.20 L417.30 264.19 L418.00 266.50 L418.63 267.78 L419.27 268.64 L419.90 270.10 L420.50 270.50 L421.10 268.65 L421.70 266.08 L422.30 267.90 L422.88 266.12 L423.46 268.28 L424.04 272.44 L424.62 270.90 L425.20 272.20 L425.76 274.02 L426.32 274.51 L426.88 273.62 L427.44 274.80 L428.00 277.90 L428.58 276.86 L429.16 275.92 L429.74 275.09 L430.32 274.21 L430.90 273.60 L431.48 276.31 L432.06 275.52 L432.64 273.69 L433.22 274.79 L433.80 274.40 L434.40 274.88 L435.00 274.39 L435.60 275.23 L436.20 275.80 L436.83 279.15 L437.47 281.62 L438.10 283.00 L438.63 283.87 L439.17 284.16 L439.70 282.63 L440.23 282.66 L440.77 283.79 L441.30 284.10 L441.88 282.65 L442.46 282.11 L443.04 280.33 L443.62 278.48 L444.20 277.90 L444.77 279.13 L445.33 279.87 L445.90 281.50 L446.48 281.08 L447.06 281.35 L447.64 281.70 L448.22 281.11 L448.80 280.40 L449.38 278.98 L449.96 278.73 L450.54 277.90 L451.12 278.32 L451.70 278.70 L452.26 279.08 L452.82 278.73 L453.38 278.78 L453.94 280.04 L454.50 281.50 L455.03 282.26 L455.57 280.76 L456.10 282.75 L456.63 282.58 L457.17 283.99 L457.70 285.80 L458.25 286.37 L458.80 285.30 L459.35 284.30 L459.90 282.83 L460.45 282.24 L461.00 280.10 L461.56 279.21 L462.12 278.08 L462.68 278.03 L463.24 276.23 L463.80 275.10 L464.31 275.90 L464.83 276.46 L465.34 276.01 L465.86 276.00 L466.37 276.63 L466.89 277.73 L467.40 279.40 L467.95 277.39 L468.50 276.28 L469.05 275.56 L469.60 275.10 L470.12 274.61 L470.65 274.07 L471.18 272.93 L471.70 272.20 L472.27 275.11 L472.83 276.34 L473.40 278.70 L473.90 279.39 L474.40 283.12 L474.90 287.20 L475.45 283.74 L476.00 280.80 L476.63 285.30 L477.27 289.40 L477.90 295.10 L478.45 301.34 L479.00 308.00 L479.70 311.99 L480.40 317.40 L481.30 299.00 L481.80 300.99 L482.30 304.50 L482.82 305.32 L483.35 306.64 L483.88 307.78 L484.40 310.20 L484.92 307.56 L485.45 304.94 L485.98 302.82 L486.50 300.20 L487.20 296.97 L487.90 295.90 L488.42 295.50 L488.95 294.98 L489.48 296.35 L490.00 296.60 L490.50 298.49 L491.00 298.02 L491.50 298.70 L492.02 295.69 L492.55 292.47 L493.08 289.55 L493.60 287.30 L494.15 288.33 L494.70 289.85 L495.25 291.03 L495.80 290.80 L496.50 286.71 L497.20 283.70 L497.90 286.52 L498.60 290.80 L499.23 292.71 L499.87 295.26 L500.50 295.10 L501.10 295.74 L501.70 292.92 L502.30 291.47 L502.90 292.30 L503.41 290.25 L503.93 291.47 L504.44 290.90 L504.96 291.83 L505.47 292.33 L505.99 291.65 L506.50 290.10 L507.08 291.70 L507.66 292.41 L508.24 293.05 L508.82 295.28 L509.40 295.90 L509.96 297.00 L510.52 297.72 L511.08 298.38 L511.64 298.27 L512.20 298.00 L512.78 297.71 L513.36 295.93 L513.94 294.47 L514.52 293.36 L515.10 293.00 L515.68 292.67 L516.26 292.35 L516.84 290.97 L517.42 289.49 L518.00 288.00 L518.56 287.34 L519.12 286.69 L519.68 284.56 L520.24 284.65 L520.80 283.70 L521.31 283.57 L521.83 285.29 L522.34 285.63 L522.86 286.26 L523.37 286.62 L523.89 285.56 L524.40 284.40 L524.94 282.76 L525.48 281.99 L526.01 281.96 L526.55 282.46 L527.09 282.84 L527.62 282.30 L528.16 280.95 L528.70 280.80 L529.28 282.35 L529.86 281.55 L530.44 282.86 L531.02 282.64 L531.60 283.40 L532.18 283.55 L532.76 282.85 L533.34 282.63 L533.92 282.92 L534.50 282.20 L535.00 283.14 L535.50 284.06 L536.00 284.86 L536.50 284.05 L537.00 284.11 L537.50 284.04 L538.00 284.40 L538.51 284.52 L539.03 283.38 L539.54 282.78 L540.06 282.99 L540.57 282.04 L541.09 282.14 L541.60 281.50 L542.18 279.45 L542.76 278.81 L543.34 278.35 L543.92 277.31 L544.50 278.70 L545.02 276.92 L545.55 273.97 L546.08 272.42 L546.60 270.80 L547.15 268.42 L547.70 268.38 L548.25 265.58 L548.80 263.60 L549.32 264.75 L549.85 265.64 L550.38 266.82 L550.90 268.60 L551.48 269.94 L552.06 271.78 L552.64 272.90 L553.22 273.41 L553.80 274.40 L554.35 272.69 L554.90 268.84 L555.45 267.17 L556.00 266.50 L556.52 264.89 L557.05 265.44 L557.58 265.92 L558.10 262.20 L558.68 262.50 L559.26 262.55 L559.84 260.83 L560.42 262.27 L561.00 259.30 L561.52 259.31 L562.05 258.02 L562.58 255.08 L563.10 253.60 L563.68 250.71 L564.26 250.63 L564.84 250.47 L565.42 251.21 L566.00 252.20 L566.60 250.76 L567.20 250.90 L567.75 248.37 L568.30 242.72 L568.85 242.34 L569.40 242.30 L569.92 240.25 L570.45 240.43 L570.98 237.97 L571.50 233.00 L572.08 232.27 L572.66 231.82 L573.24 232.21 L573.82 231.55 L574.40 228.00 L575.10 223.19 L575.80 220.10 L576.40 217.31 L577.00 211.50 L577.70 215.06 L578.40 220.10 L578.97 219.54 L579.53 219.55 L580.10 215.80 L580.80 210.92 L581.50 207.20 L582.05 211.40 L582.60 212.19 L583.15 216.00 L583.70 217.90 L584.23 212.63 L584.75 211.56 L585.27 207.09 L585.80 203.60 L586.40 208.02 L587.00 213.14 L587.60 215.80 L588.30 221.77 L589.00 228.70 L589.63 230.01 L590.27 232.20 L590.90 234.40 L591.42 235.34 L591.95 237.37 L592.48 238.48 L593.00 241.60 L593.55 244.80 L594.10 247.88 L594.65 250.18 L595.20 250.90 L595.90 245.02 L596.60 237.30 L597.23 238.46 L597.87 236.45 L598.50 235.80 L599.07 242.59 L599.63 247.38 L600.20 250.20 L600.73 250.20 L601.25 249.09 L601.77 248.29 L602.30 248.00 L602.85 246.09 L603.40 245.61 L603.95 246.36 L604.50 244.40 L605.02 244.42 L605.55 244.62 L606.08 245.09 L606.60 246.60 L607.15 244.12 L607.70 241.34 L608.25 238.82 L608.80 238.70 L609.37 239.79 L609.93 240.98 L610.50 240.90 L611.20 232.31 L611.90 227.20 L612.53 231.92 L613.17 232.07 L613.80 232.30 L614.32 231.95 L614.85 230.99 L615.38 229.58 L615.90 230.80 L616.45 228.81 L617.00 225.84 L617.55 223.54 L618.10 222.20 L618.62 220.83 L619.15 221.21 L619.68 220.80 L620.20 217.90 L620.78 217.98 L621.36 216.49 L621.94 217.90 L622.52 218.68 L623.10 216.50 L623.62 218.44 L624.15 217.21 L624.68 218.98 L625.20 220.10 L625.70 220.10 L626.20 217.31 L626.70 215.10 L627.23 214.89 L627.75 215.25 L628.27 217.16 L628.80 216.50 L629.43 214.11 L630.07 214.22 L630.70 216.60 L631.25 216.13 L631.80 211.98 L632.35 211.16 L632.90 209.40 L633.42 208.63 L633.95 206.87 L634.48 207.09 L635.00 203.70 L635.58 207.68 L636.16 209.69 L636.74 207.52 L637.32 204.65 L637.90 206.50 L638.42 202.97 L638.95 200.85 L639.48 201.06 L640.00 200.10 L640.55 200.55 L641.10 196.63 L641.65 195.36 L642.20 196.50 L642.75 205.67 L643.30 211.60 L643.80 210.47 L644.30 209.51 L644.80 210.13 L645.30 210.09 L645.80 207.30 L646.32 202.78 L646.85 201.42 L647.38 199.75 L647.90 202.20 L648.40 198.38 L648.90 197.60 L649.40 191.50 L650.10 189.98 L650.80 184.30 L651.37 184.18 L651.93 183.58 L652.50 183.60 L653.13 181.12 L653.77 176.23 L654.40 175.00 L654.92 174.61 L655.45 176.04 L655.98 175.74 L656.50 177.20 L657.00 176.08 L657.50 174.80 L658.00 172.20 L658.70 179.06 L659.40 182.90 L659.92 185.89 L660.45 184.21 L660.98 188.27 L661.50 187.90 L662.13 186.05 L662.77 180.44 L663.40 182.90 L664.10 178.14 L664.80 176.50 L665.30 180.15 L665.80 183.80 L666.30 186.50 L666.87 184.46 L667.43 183.88 L668.00 178.60 L668.52 178.17 L669.05 174.94 L669.58 170.44 L670.10 172.20 L670.60 173.09 L671.10 170.05 L671.60 169.30 L672.30 175.33 L673.00 180.80 L673.52 183.41 L674.05 184.83 L674.58 187.45 L675.10 189.40 L675.65 187.65 L676.20 185.03 L676.75 187.07 L677.30 185.10 L677.93 186.53 L678.57 188.89 L679.20 190.80 L679.77 190.01 L680.33 193.51 L680.90 192.90 L681.45 187.19 L682.00 183.60 L682.57 181.97 L683.13 179.29 L683.70 178.10 L684.30 173.97 L684.90 170.34 L685.50 165.40 L686.20 163.72 L686.90 162.60 L687.80 171.80 L688.50 166.92 L689.20 160.80 L690.10 148.90 L691.00 156.20 L691.70 157.27 L692.40 160.80 L693.10 165.57 L693.80 167.20 L694.45 168.07 L695.10 172.70 L695.90 176.50 L696.50 174.76 L697.10 178.70 L697.65 176.42 L698.20 173.30 L698.80 176.91 L699.40 178.70 L699.95 182.87 L700.50 184.40 L701.30 186.70 L702.00 178.70 L702.70 177.66 L703.40 175.30 L703.95 175.58 L704.50 172.50 L705.40 173.60 L705.93 168.78 L706.47 167.62 L707.00 170.40" fill="none" stroke="#0a6bb5" stroke-width="1.65" stroke-linejoin="round" stroke-linecap="butt"/>
<path d="M58.60 349.70 L59.10 349.63 L59.60 350.10 L60.10 349.80 L60.60 349.17 L61.10 349.22 L61.60 349.41 L62.10 349.52 L62.60 349.67 L63.10 349.62 L63.60 349.40 L64.12 349.05 L64.64 348.89 L65.15 348.67 L65.67 348.90 L66.19 349.02 L66.71 348.51 L67.23 348.66 L67.75 348.57 L68.26 348.87 L68.78 349.29 L69.30 349.40 L69.82 348.94 L70.34 349.30 L70.85 348.91 L71.37 349.59 L71.89 349.51 L72.41 349.59 L72.93 350.35 L73.45 349.90 L73.96 350.05 L74.48 349.83 L75.00 349.80 L75.53 349.66 L76.05 350.03 L76.58 350.06 L77.11 350.31 L77.64 350.66 L78.16 350.22 L78.69 350.82 L79.22 350.87 L79.75 350.46 L80.27 350.38 L80.80 350.80 L81.32 351.23 L81.84 351.12 L82.35 351.26 L82.87 351.44 L83.39 351.88 L83.91 351.94 L84.43 352.35 L84.95 352.18 L85.46 352.06 L85.98 352.37 L86.50 352.70 L87.04 352.48 L87.58 352.46 L88.11 352.32 L88.65 352.36 L89.19 352.51 L89.72 352.47 L90.26 352.53 L90.80 352.20 L91.32 351.99 L91.84 351.22 L92.35 351.31 L92.87 351.29 L93.39 351.43 L93.91 350.79 L94.43 350.60 L94.95 350.39 L95.46 349.76 L95.98 350.03 L96.50 350.40 L97.03 349.85 L97.55 349.88 L98.08 350.33 L98.61 349.80 L99.14 350.01 L99.66 350.42 L100.19 350.93 L100.72 350.35 L101.25 349.87 L101.77 349.82 L102.30 350.10 L102.81 349.69 L103.31 349.46 L103.82 349.10 L104.33 349.50 L104.84 349.33 L105.34 349.54 L105.85 349.78 L106.36 350.18 L106.86 350.34 L107.37 350.48 L107.88 350.88 L108.39 351.06 L108.89 350.66 L109.40 350.50 L109.91 350.72 L110.41 350.68 L110.92 350.48 L111.42 350.47 L111.93 351.49 L112.44 351.39 L112.94 351.47 L113.45 351.54 L113.95 351.36 L114.46 351.67 L114.96 351.87 L115.47 351.92 L115.98 351.39 L116.48 351.72 L116.99 351.89 L117.49 351.78 L118.00 350.80 L118.51 350.73 L119.01 350.27 L119.52 350.14 L120.02 349.92 L120.53 349.59 L121.04 349.88 L121.54 349.87 L122.05 350.23 L122.55 349.85 L123.06 349.73 L123.56 350.15 L124.07 350.21 L124.58 349.91 L125.08 349.55 L125.59 349.29 L126.09 349.21 L126.60 349.40 L127.11 349.36 L127.63 349.54 L128.14 349.74 L128.66 349.69 L129.17 350.06 L129.69 350.23 L130.20 350.08 L130.71 349.93 L131.23 349.84 L131.74 349.49 L132.26 348.92 L132.77 348.85 L133.29 348.58 L133.80 348.70 L134.31 348.45 L134.83 348.45 L135.34 348.48 L135.86 348.28 L136.37 348.31 L136.89 348.02 L137.40 347.83 L137.91 348.08 L138.43 348.18 L138.94 348.14 L139.46 347.82 L139.97 348.04 L140.49 348.73 L141.00 347.90 L141.51 348.11 L142.01 348.02 L142.52 348.26 L143.03 348.52 L143.54 347.97 L144.04 348.45 L144.55 348.06 L145.06 347.80 L145.56 347.86 L146.07 347.66 L146.58 347.59 L147.09 347.23 L147.59 346.66 L148.10 346.50 L148.63 346.19 L149.15 346.81 L149.68 347.00 L150.21 347.65 L150.74 347.27 L151.26 346.56 L151.79 345.78 L152.32 345.73 L152.85 345.33 L153.37 345.57 L153.90 345.10 L154.44 344.77 L154.97 345.11 L155.51 345.17 L156.05 345.66 L156.59 346.20 L157.12 346.56 L157.66 346.31 L158.20 346.20 L158.70 347.02 L159.20 346.89 L159.70 346.95 L160.20 346.95 L160.70 346.89 L161.20 346.77 L161.70 346.50 L162.20 346.25 L162.70 345.41 L163.20 346.01 L163.70 345.92 L164.20 345.35 L164.70 345.51 L165.20 345.72 L165.70 345.10 L166.23 344.53 L166.75 344.77 L167.28 344.63 L167.81 344.45 L168.34 344.50 L168.86 344.09 L169.39 343.61 L169.92 343.91 L170.45 343.48 L170.97 343.09 L171.50 343.00 L172.02 342.84 L172.54 342.15 L173.05 342.79 L173.57 342.59 L174.09 343.18 L174.61 343.23 L175.13 342.67 L175.65 343.17 L176.16 342.92 L176.68 342.38 L177.20 342.20 L177.72 341.18 L178.24 341.27 L178.75 340.87 L179.27 340.67 L179.79 340.20 L180.31 340.41 L180.83 340.48 L181.35 340.86 L181.86 341.51 L182.38 341.55 L182.90 341.50 L183.44 341.47 L183.97 340.94 L184.51 340.52 L185.05 340.70 L185.59 340.14 L186.12 339.08 L186.66 338.75 L187.20 338.70 L187.71 339.16 L188.23 338.58 L188.74 337.90 L189.26 337.71 L189.77 337.40 L190.29 337.29 L190.80 336.80 L191.31 336.99 L191.83 336.79 L192.34 337.36 L192.86 337.58 L193.37 337.95 L193.89 337.82 L194.40 337.20 L194.91 337.55 L195.43 337.88 L195.94 338.75 L196.46 339.56 L196.97 339.89 L197.49 340.21 L198.00 340.10 L198.50 340.14 L199.00 340.29 L199.50 340.16 L200.00 339.73 L200.50 340.36 L201.00 340.00 L201.50 340.80 L202.04 341.41 L202.57 342.19 L203.11 341.89 L203.65 342.26 L204.19 341.72 L204.73 341.64 L205.26 341.04 L205.80 340.80 L206.35 340.09 L206.90 340.04 L207.45 340.05 L208.00 339.40 L208.50 339.67 L209.00 339.63 L209.50 339.51 L210.00 339.09 L210.50 339.39 L211.00 340.06 L211.50 340.11 L212.00 340.68 L212.50 340.55 L213.00 340.50 L213.54 340.53 L214.07 341.20 L214.61 341.24 L215.15 341.86 L215.69 341.97 L216.23 341.75 L216.76 341.14 L217.30 341.20 L217.82 340.89 L218.34 341.41 L218.85 341.72 L219.37 341.10 L219.89 341.59 L220.41 341.94 L220.93 340.76 L221.45 340.40 L221.96 340.62 L222.48 340.02 L223.00 339.80 L223.50 339.64 L224.00 339.35 L224.50 339.15 L225.00 339.04 L225.50 338.23 L226.00 338.93 L226.50 338.77 L227.00 339.36 L227.50 338.84 L228.00 338.70 L228.51 338.66 L229.03 338.38 L229.54 338.33 L230.06 338.25 L230.57 338.43 L231.09 338.38 L231.60 338.20 L232.18 337.97 L232.76 338.19 L233.34 337.77 L233.92 337.59 L234.50 337.20 L235.04 336.55 L235.57 336.42 L236.11 336.27 L236.65 335.90 L237.19 335.89 L237.73 335.33 L238.26 335.76 L238.80 335.80 L239.32 336.50 L239.84 336.78 L240.35 336.24 L240.87 336.22 L241.39 336.33 L241.91 336.08 L242.43 335.98 L242.95 335.53 L243.46 335.25 L243.98 335.48 L244.50 335.40 L245.03 335.79 L245.55 334.50 L246.08 333.87 L246.61 333.46 L247.14 333.98 L247.66 334.32 L248.19 334.48 L248.72 334.75 L249.25 335.33 L249.77 335.44 L250.30 335.10 L250.80 335.14 L251.30 334.73 L251.80 334.56 L252.30 334.71 L252.80 334.40 L253.30 334.40 L253.80 334.13 L254.30 333.39 L254.80 332.58 L255.30 332.90 L255.81 332.88 L256.33 333.28 L256.84 333.19 L257.36 333.14 L257.87 333.24 L258.39 333.02 L258.90 333.70 L259.40 334.00 L259.90 333.98 L260.40 333.20 L260.90 332.69 L261.40 332.57 L261.90 332.95 L262.40 332.70 L262.98 333.37 L263.56 334.33 L264.14 335.08 L264.72 335.68 L265.30 335.80 L265.80 336.92 L266.30 337.40 L266.80 337.65 L267.30 338.11 L267.80 337.97 L268.30 337.67 L268.80 337.32 L269.30 338.00 L269.84 337.47 L270.38 337.62 L270.91 337.14 L271.45 336.39 L271.99 336.18 L272.53 335.92 L273.06 335.67 L273.60 336.60 L274.14 336.35 L274.68 335.71 L275.21 335.79 L275.75 335.28 L276.29 335.55 L276.82 334.40 L277.36 334.61 L277.90 333.70 L278.44 333.53 L278.97 333.85 L279.51 333.51 L280.05 332.86 L280.59 332.87 L281.12 332.92 L281.66 332.27 L282.20 333.00 L282.74 332.96 L283.27 333.03 L283.81 333.31 L284.35 333.73 L284.89 334.67 L285.43 333.96 L285.96 334.36 L286.50 335.20 L287.04 335.20 L287.57 335.04 L288.11 334.35 L288.65 334.39 L289.19 334.02 L289.73 333.97 L290.26 333.29 L290.80 333.00 L291.32 333.23 L291.84 332.76 L292.35 333.60 L292.87 333.85 L293.39 333.48 L293.91 333.65 L294.43 334.02 L294.95 334.15 L295.46 333.91 L295.98 334.10 L296.50 333.70 L297.04 332.32 L297.57 332.41 L298.11 332.79 L298.65 333.25 L299.19 333.93 L299.73 334.13 L300.26 333.12 L300.80 332.30 L301.30 332.74 L301.80 332.34 L302.30 332.00 L302.80 331.84 L303.30 331.92 L303.80 331.02 L304.30 330.89 L304.80 331.01 L305.30 329.72 L305.80 330.20 L306.30 330.61 L306.80 330.14 L307.30 331.14 L307.80 331.35 L308.30 331.60 L308.80 332.43 L309.30 331.01 L309.80 330.99 L310.30 331.55 L310.80 332.30 L311.34 332.70 L311.88 333.01 L312.41 333.01 L312.95 333.25 L313.49 333.20 L314.03 332.33 L314.56 332.43 L315.10 332.30 L315.64 331.62 L316.18 331.01 L316.71 330.39 L317.25 330.09 L317.79 329.69 L318.32 329.13 L318.86 328.42 L319.40 328.00 L319.94 328.32 L320.47 328.74 L321.01 330.05 L321.55 330.69 L322.09 330.95 L322.62 330.26 L323.16 329.92 L323.70 328.70 L324.28 329.33 L324.86 330.08 L325.44 329.96 L326.02 329.81 L326.60 330.20 L327.14 330.35 L327.68 329.19 L328.21 328.87 L328.75 328.52 L329.29 327.62 L329.82 328.27 L330.36 328.53 L330.90 328.00 L331.40 328.32 L331.90 328.35 L332.40 328.40 L332.90 328.52 L333.40 329.46 L333.90 329.81 L334.40 329.89 L334.90 329.85 L335.40 330.34 L335.90 330.20 L336.41 329.12 L336.93 328.87 L337.44 329.60 L337.96 329.04 L338.47 328.96 L338.99 328.67 L339.50 329.20 L340.04 329.27 L340.57 328.34 L341.11 329.15 L341.65 328.96 L342.19 328.22 L342.73 327.73 L343.26 327.57 L343.80 328.00 L344.31 327.14 L344.83 326.01 L345.34 326.12 L345.86 326.37 L346.37 325.47 L346.89 324.86 L347.40 324.40 L347.91 324.47 L348.43 324.17 L348.94 325.08 L349.46 324.67 L349.97 323.79 L350.49 324.42 L351.00 325.40 L351.54 326.13 L352.07 325.89 L352.61 325.96 L353.15 325.52 L353.69 325.42 L354.23 324.12 L354.76 323.81 L355.30 324.90 L355.80 323.88 L356.30 324.68 L356.80 324.50 L357.30 322.95 L357.80 323.27 L358.30 322.36 L358.80 322.43 L359.30 322.03 L359.80 321.51 L360.30 321.10 L360.81 320.54 L361.33 320.36 L361.84 320.41 L362.36 321.90 L362.87 321.85 L363.39 322.38 L363.90 323.00 L364.40 323.33 L364.90 322.72 L365.40 322.39 L365.90 321.32 L366.40 322.54 L366.90 321.09 L367.40 320.80 L367.91 320.82 L368.43 321.17 L368.94 321.07 L369.46 321.03 L369.97 321.92 L370.49 322.80 L371.00 323.00 L371.55 322.60 L372.10 322.41 L372.65 322.04 L373.20 322.02 L373.75 322.20 L374.30 322.20 L374.84 321.10 L375.38 321.00 L375.91 320.24 L376.45 320.47 L376.99 320.22 L377.53 320.35 L378.06 320.23 L378.60 320.80 L379.12 321.12 L379.64 320.64 L380.15 319.04 L380.67 318.45 L381.19 319.21 L381.71 318.15 L382.23 317.51 L382.75 318.60 L383.26 319.18 L383.78 319.03 L384.30 318.60 L384.83 317.31 L385.35 318.10 L385.88 318.38 L386.41 316.82 L386.94 316.37 L387.46 315.92 L387.99 315.51 L388.52 314.67 L389.05 316.10 L389.57 315.10 L390.10 315.80 L390.62 315.97 L391.14 315.69 L391.65 315.74 L392.17 316.00 L392.69 315.13 L393.21 314.57 L393.73 315.18 L394.25 315.61 L394.76 315.62 L395.28 314.42 L395.80 312.90 L396.32 313.28 L396.84 313.63 L397.35 313.26 L397.87 312.81 L398.39 311.79 L398.91 311.42 L399.43 311.61 L399.95 311.46 L400.46 310.26 L400.98 309.79 L401.50 308.60 L402.02 308.77 L402.54 308.10 L403.05 306.40 L403.57 305.77 L404.09 306.15 L404.61 305.73 L405.13 306.40 L405.65 306.17 L406.16 306.64 L406.68 306.49 L407.20 307.90 L407.71 306.69 L408.23 305.83 L408.74 305.91 L409.26 306.29 L409.77 304.42 L410.29 304.80 L410.80 303.00 L411.31 302.60 L411.83 302.31 L412.34 303.63 L412.86 303.16 L413.37 304.11 L413.89 304.92 L414.40 305.20 L414.98 304.54 L415.56 305.26 L416.14 305.60 L416.72 303.82 L417.30 303.00 L417.84 303.35 L418.38 303.92 L418.91 304.15 L419.45 305.31 L419.99 305.27 L420.53 304.91 L421.06 305.64 L421.60 306.60 L422.12 307.74 L422.64 308.43 L423.15 307.84 L423.67 307.21 L424.19 307.61 L424.71 307.95 L425.23 308.68 L425.75 309.90 L426.26 308.20 L426.78 307.82 L427.30 308.40 L427.82 307.57 L428.34 308.98 L428.85 308.97 L429.37 309.50 L429.89 309.38 L430.41 309.72 L430.93 310.10 L431.45 310.60 L431.96 309.53 L432.48 308.02 L433.00 308.00 L433.51 309.21 L434.03 309.57 L434.54 310.00 L435.06 311.41 L435.57 312.49 L436.09 312.31 L436.60 313.00 L437.11 312.36 L437.63 311.93 L438.14 311.38 L438.66 311.36 L439.17 310.87 L439.69 310.65 L440.20 310.20 L440.72 309.65 L441.24 308.81 L441.75 308.64 L442.27 308.61 L442.79 309.48 L443.31 311.08 L443.83 310.15 L444.35 309.24 L444.86 309.70 L445.38 308.98 L445.90 308.70 L446.41 307.14 L446.93 307.10 L447.44 305.36 L447.96 305.66 L448.47 304.43 L448.99 304.09 L449.50 304.40 L450.00 303.70 L450.50 303.62 L451.00 305.49 L451.50 304.30 L452.00 304.43 L452.50 302.71 L453.00 303.04 L453.50 302.91 L454.00 301.94 L454.50 300.90 L455.01 302.61 L455.53 303.78 L456.04 303.30 L456.56 304.60 L457.07 304.38 L457.59 304.27 L458.10 305.20 L458.61 304.18 L459.13 303.70 L459.64 303.72 L460.16 302.23 L460.67 301.79 L461.19 301.14 L461.70 298.70 L462.23 298.51 L462.75 298.54 L463.27 296.32 L463.80 295.10 L464.31 296.37 L464.83 297.57 L465.34 297.55 L465.86 297.66 L466.37 297.70 L466.89 296.87 L467.40 297.30 L467.94 298.55 L468.47 296.47 L469.01 295.70 L469.55 294.06 L470.09 294.79 L470.62 292.45 L471.16 292.59 L471.70 292.30 L472.28 292.85 L472.86 293.95 L473.44 295.42 L474.02 298.44 L474.60 300.10 L475.17 298.32 L475.73 296.46 L476.30 293.70 L476.80 297.40 L477.30 301.00 L477.85 306.94 L478.40 312.50 L479.20 314.30 L479.75 314.66 L480.30 313.80 L481.20 314.00 L481.70 311.85 L482.20 310.50 L483.00 302.50 L483.50 303.92 L484.00 304.33 L484.50 304.63 L485.00 306.60 L485.58 306.75 L486.16 306.72 L486.74 307.55 L487.32 305.72 L487.90 303.70 L488.48 303.11 L489.06 303.19 L489.64 301.76 L490.22 301.29 L490.80 300.90 L491.32 300.32 L491.85 299.39 L492.38 298.94 L492.90 298.70 L493.48 300.47 L494.06 301.29 L494.64 301.50 L495.22 301.62 L495.80 302.30 L496.36 302.02 L496.92 300.52 L497.48 299.46 L498.04 299.20 L498.60 298.70 L499.18 299.10 L499.76 298.07 L500.34 297.17 L500.92 297.70 L501.50 294.40 L502.01 292.55 L502.53 291.63 L503.04 291.59 L503.56 292.60 L504.07 293.12 L504.59 292.42 L505.10 290.80 L505.61 292.01 L506.13 292.58 L506.64 292.43 L507.16 292.02 L507.67 293.54 L508.19 294.08 L508.70 295.10 L509.26 294.84 L509.82 293.94 L510.38 293.31 L510.94 292.54 L511.50 292.30 L512.05 292.17 L512.60 293.34 L513.15 292.91 L513.70 293.70 L514.26 292.65 L514.82 292.08 L515.38 287.84 L515.94 287.32 L516.50 286.50 L517.08 284.67 L517.66 282.93 L518.24 281.13 L518.82 278.12 L519.40 280.10 L519.98 279.90 L520.56 280.44 L521.14 279.09 L521.72 278.58 L522.30 275.80 L522.86 275.65 L523.42 274.56 L523.98 274.51 L524.54 274.95 L525.10 276.50 L525.61 277.35 L526.13 276.85 L526.64 277.06 L527.16 278.52 L527.67 281.46 L528.19 279.38 L528.70 278.70 L529.21 277.25 L529.73 276.43 L530.24 276.52 L530.76 277.52 L531.27 277.57 L531.79 278.61 L532.30 277.20 L532.88 277.15 L533.46 276.14 L534.04 276.12 L534.62 277.81 L535.20 278.70 L535.90 281.79 L536.60 282.20 L537.11 281.43 L537.63 282.37 L538.14 280.43 L538.66 281.68 L539.17 282.39 L539.69 281.15 L540.20 282.00 L540.71 281.97 L541.23 283.09 L541.74 282.52 L542.26 281.61 L542.77 281.33 L543.29 280.89 L543.80 279.40 L544.32 278.17 L544.85 276.99 L545.38 273.81 L545.90 270.80 L546.40 267.69 L546.90 265.34 L547.40 262.68 L547.90 260.87 L548.40 260.00 L548.90 263.46 L549.40 263.59 L549.90 263.93 L550.40 263.77 L550.90 265.10 L551.45 267.90 L552.00 268.52 L552.55 270.28 L553.10 270.80 L553.62 267.00 L554.15 264.29 L554.68 263.33 L555.20 260.80 L555.72 257.77 L556.24 255.76 L556.76 254.68 L557.28 256.83 L557.80 254.50 L558.50 251.40 L559.07 254.51 L559.63 254.90 L560.20 255.70 L560.70 256.28 L561.20 251.84 L561.70 251.40 L562.23 251.24 L562.75 251.47 L563.27 252.83 L563.80 252.20 L564.37 253.69 L564.93 257.07 L565.50 260.00 L566.02 261.03 L566.54 260.82 L567.06 261.18 L567.58 257.29 L568.10 258.00 L568.65 256.36 L569.20 253.39 L569.75 250.18 L570.30 248.00 L570.84 245.03 L571.38 242.19 L571.92 242.40 L572.46 242.69 L573.00 237.30 L573.52 235.18 L574.05 234.53 L574.58 234.67 L575.10 231.50 L575.73 227.86 L576.37 226.35 L577.00 225.80 L577.70 230.22 L578.40 235.80 L579.00 239.65 L579.60 245.80 L580.20 242.33 L580.80 238.78 L581.40 237.60 L581.90 240.36 L582.40 242.01 L582.90 246.00 L583.50 245.30 L584.10 244.33 L584.70 244.00 L585.30 248.14 L585.90 248.50 L586.50 251.50 L587.07 254.43 L587.63 257.04 L588.20 260.80 L588.80 260.60 L589.40 262.69 L590.00 262.90 L590.55 263.85 L591.10 265.13 L591.65 266.78 L592.20 265.80 L592.77 269.16 L593.33 270.57 L593.90 269.40 L594.43 272.62 L594.97 273.97 L595.50 276.50 L596.07 273.10 L596.63 271.76 L597.20 268.70 L597.75 271.68 L598.30 273.53 L598.85 273.31 L599.40 270.10 L599.92 268.89 L600.45 268.00 L600.98 266.60 L601.50 265.80 L602.05 265.05 L602.60 265.56 L603.15 265.78 L603.70 264.40 L604.23 264.62 L604.75 264.46 L605.27 263.35 L605.80 261.50 L606.43 258.52 L607.07 259.99 L607.70 261.50 L608.27 264.50 L608.83 265.80 L609.40 268.70 L610.10 271.70 L610.80 274.40 L611.40 269.95 L612.00 267.20 L612.57 268.61 L613.13 272.30 L613.70 275.10 L614.27 276.65 L614.83 278.59 L615.40 280.80 L616.03 281.29 L616.67 281.85 L617.30 283.70 L617.82 280.31 L618.35 278.82 L618.88 277.24 L619.40 276.50 L619.95 275.20 L620.50 273.03 L621.05 272.82 L621.60 273.00 L622.12 271.84 L622.65 272.95 L623.18 275.92 L623.70 275.10 L624.40 280.27 L625.10 281.60 L625.70 282.89 L626.30 282.87 L626.90 284.40 L627.50 281.33 L628.10 278.82 L628.70 277.30 L629.33 279.38 L629.97 281.41 L630.60 281.60 L631.20 280.89 L631.80 280.38 L632.40 279.41 L633.00 278.00 L633.58 276.70 L634.16 275.94 L634.74 274.32 L635.32 271.55 L635.90 271.50 L636.48 270.87 L637.06 273.19 L637.64 273.69 L638.22 274.14 L638.80 275.80 L639.32 275.59 L639.85 273.77 L640.38 273.63 L640.90 270.80 L641.45 271.47 L642.00 271.84 L642.55 272.75 L643.10 273.00 L643.62 273.34 L644.15 271.58 L644.68 269.04 L645.20 270.80 L645.90 269.26 L646.60 268.70 L647.10 269.89 L647.60 270.89 L648.10 272.20 L648.67 268.25 L649.23 265.01 L649.80 261.50 L650.40 261.55 L651.00 261.21 L651.60 261.50 L652.15 261.81 L652.70 265.80 L653.25 263.92 L653.80 265.03 L654.35 266.49 L654.90 267.20 L655.40 268.12 L655.90 271.42 L656.40 272.50 L657.05 271.97 L657.70 272.50 L658.25 276.81 L658.80 279.80 L659.40 278.54 L660.00 278.90 L660.90 275.70 L661.60 277.28 L662.30 279.80 L663.00 282.90 L663.70 283.00 L664.35 282.40 L665.00 282.50 L665.90 280.20 L666.70 284.60 L667.25 280.71 L667.80 278.90 L668.45 279.05 L669.10 278.90 L669.60 278.91 L670.10 275.70 L670.70 274.26 L671.30 275.86 L671.90 276.10 L672.50 275.10 L673.10 274.96 L673.70 273.40 L674.60 279.80 L675.20 279.23 L675.80 278.62 L676.40 279.80 L676.90 279.20 L677.40 277.10 L678.05 277.41 L678.70 279.80 L679.40 281.62 L680.10 283.40 L681.00 284.80 L681.60 281.20 L682.20 282.65 L682.80 283.00 L683.40 285.22 L684.00 289.40 L684.55 287.56 L685.10 283.90 L685.80 285.48 L686.50 285.70 L687.40 287.10 L688.00 286.07 L688.60 285.76 L689.20 284.80 L689.90 283.90 L690.60 283.40 L691.20 283.14 L691.80 283.58 L692.40 284.80 L692.97 283.77 L693.53 283.50 L694.10 282.50 L694.70 289.40 L695.60 296.20 L696.20 296.81 L696.80 296.56 L697.40 295.80 L698.00 295.32 L698.60 296.70 L699.15 294.93 L699.70 292.60 L700.60 298.00 L701.15 299.13 L701.70 302.10 L702.30 301.80 L702.90 301.20 L703.80 298.50 L704.70 301.20 L705.60 304.90 L706.50 301.70" fill="none" stroke="#7b2a87" stroke-width="1.65" stroke-linejoin="round" stroke-linecap="butt"/>
<path d="M58.60 349.40 L59.10 349.92 L59.60 350.36 L60.10 350.00 L60.60 349.46 L61.10 349.53 L61.60 349.89 L62.10 349.95 L62.60 349.57 L63.10 349.52 L63.60 350.10 L64.12 349.51 L64.64 349.72 L65.15 349.75 L65.67 349.78 L66.19 349.90 L66.71 349.57 L67.23 349.40 L67.75 349.87 L68.26 349.60 L68.78 349.32 L69.30 348.70 L69.81 348.52 L70.33 348.77 L70.84 349.18 L71.36 349.39 L71.87 349.60 L72.39 349.79 L72.90 349.89 L73.41 350.22 L73.93 350.16 L74.44 350.51 L74.96 350.48 L75.47 349.92 L75.99 349.48 L76.50 349.40 L77.01 349.29 L77.53 348.93 L78.04 348.73 L78.56 348.84 L79.07 349.02 L79.59 349.35 L80.10 349.11 L80.61 349.28 L81.13 349.67 L81.64 349.83 L82.16 350.46 L82.67 350.35 L83.19 350.40 L83.70 350.50 L84.21 350.47 L84.71 350.54 L85.22 350.71 L85.73 350.80 L86.24 350.73 L86.74 350.68 L87.25 350.75 L87.76 350.35 L88.26 350.50 L88.77 350.24 L89.28 350.26 L89.79 350.00 L90.29 350.13 L90.80 350.10 L91.31 349.97 L91.83 349.69 L92.34 349.69 L92.86 350.17 L93.37 349.54 L93.89 349.66 L94.40 349.70 L94.91 349.53 L95.43 349.07 L95.94 349.55 L96.46 349.57 L96.97 349.86 L97.49 349.69 L98.00 349.40 L98.51 349.71 L99.01 349.90 L99.52 349.75 L100.03 349.63 L100.54 349.79 L101.04 349.48 L101.55 349.15 L102.06 349.09 L102.56 349.37 L103.07 349.60 L103.58 349.62 L104.09 350.01 L104.59 349.91 L105.10 349.70 L105.61 350.34 L106.13 350.05 L106.64 350.12 L107.16 350.17 L107.67 350.08 L108.19 350.03 L108.70 350.13 L109.21 350.18 L109.73 349.86 L110.24 349.74 L110.76 350.06 L111.27 350.17 L111.79 349.91 L112.30 349.80 L112.81 349.53 L113.33 349.16 L113.84 349.04 L114.36 349.61 L114.87 349.46 L115.39 348.87 L115.90 348.88 L116.41 348.71 L116.93 349.00 L117.44 349.46 L117.96 349.40 L118.47 349.49 L118.99 349.25 L119.50 349.70 L120.01 349.41 L120.51 349.37 L121.02 350.09 L121.53 349.74 L122.04 349.74 L122.54 349.67 L123.05 349.77 L123.56 349.87 L124.06 350.31 L124.57 350.41 L125.08 350.56 L125.59 350.11 L126.09 350.19 L126.60 349.70 L127.11 350.24 L127.63 350.36 L128.14 350.81 L128.66 350.79 L129.17 351.01 L129.69 351.18 L130.20 351.50 L130.71 351.60 L131.23 351.56 L131.74 351.58 L132.26 351.51 L132.77 351.36 L133.29 351.12 L133.80 350.80 L134.34 351.28 L134.88 350.94 L135.41 350.48 L135.95 350.67 L136.49 350.65 L137.03 350.50 L137.56 350.74 L138.10 351.20 L138.62 350.71 L139.14 350.92 L139.65 350.87 L140.17 351.01 L140.69 350.61 L141.21 350.91 L141.73 351.05 L142.25 349.99 L142.76 350.17 L143.28 350.38 L143.80 349.70 L144.33 349.83 L144.85 349.80 L145.38 349.90 L145.91 349.64 L146.44 349.88 L146.96 350.14 L147.49 350.13 L148.02 350.13 L148.55 349.59 L149.07 349.80 L149.60 349.40 L150.12 349.29 L150.64 348.91 L151.15 349.64 L151.67 349.53 L152.19 349.91 L152.71 349.78 L153.23 349.65 L153.75 349.77 L154.26 349.64 L154.78 350.28 L155.30 350.10 L155.80 350.70 L156.30 350.40 L156.80 350.18 L157.30 350.47 L157.80 350.11 L158.30 350.81 L158.80 351.06 L159.30 351.17 L159.80 351.81 L160.30 351.73 L160.80 351.56 L161.30 350.81 L161.80 350.27 L162.30 350.25 L162.80 349.67 L163.30 349.99 L163.80 350.38 L164.30 350.60 L164.81 350.39 L165.33 350.42 L165.84 350.29 L166.36 350.82 L166.87 351.44 L167.39 351.68 L167.90 352.00 L168.43 351.88 L168.97 351.92 L169.50 351.46 L170.03 350.98 L170.57 351.04 L171.10 351.01 L171.63 350.97 L172.17 350.81 L172.70 350.86 L173.23 350.82 L173.77 350.45 L174.30 350.80 L174.81 351.34 L175.33 351.45 L175.84 351.61 L176.36 351.58 L176.87 351.33 L177.39 351.20 L177.90 350.94 L178.41 350.92 L178.93 351.22 L179.44 351.39 L179.96 351.13 L180.47 351.26 L180.99 351.25 L181.50 351.10 L182.01 351.43 L182.53 351.08 L183.04 351.35 L183.56 350.80 L184.07 350.87 L184.59 350.63 L185.10 350.91 L185.61 351.02 L186.13 350.76 L186.64 350.93 L187.16 351.31 L187.67 351.70 L188.19 352.13 L188.70 352.00 L189.21 352.57 L189.71 352.30 L190.22 352.17 L190.73 351.61 L191.24 351.46 L191.74 350.93 L192.25 350.88 L192.76 350.25 L193.26 350.74 L193.77 350.90 L194.28 351.30 L194.79 351.58 L195.29 351.54 L195.80 351.60 L196.31 351.76 L196.83 351.28 L197.34 351.02 L197.86 351.00 L198.37 351.38 L198.89 351.06 L199.40 351.22 L199.91 351.14 L200.43 351.47 L200.94 351.80 L201.46 351.58 L201.97 351.34 L202.49 351.88 L203.00 352.30 L203.51 352.20 L204.01 352.37 L204.52 352.30 L205.03 352.36 L205.54 352.15 L206.04 352.23 L206.55 352.64 L207.06 352.99 L207.56 353.28 L208.07 353.23 L208.58 353.43 L209.09 353.22 L209.59 353.04 L210.10 353.00 L210.61 352.76 L211.13 352.89 L211.64 352.46 L212.16 353.02 L212.67 353.35 L213.19 353.51 L213.70 353.38 L214.21 353.29 L214.73 353.25 L215.24 352.84 L215.76 352.80 L216.27 352.61 L216.79 352.93 L217.30 353.40 L217.82 353.61 L218.34 353.00 L218.85 352.39 L219.37 352.60 L219.89 352.61 L220.41 352.71 L220.93 352.70 L221.45 352.55 L221.96 352.97 L222.48 353.01 L223.00 353.00 L223.53 352.78 L224.05 352.90 L224.58 353.37 L225.11 353.61 L225.64 353.95 L226.16 353.97 L226.69 354.25 L227.22 354.16 L227.75 354.19 L228.27 354.56 L228.80 355.10 L229.36 355.22 L229.92 355.38 L230.48 355.52 L231.04 355.68 L231.60 355.90 L232.13 356.01 L232.65 355.97 L233.18 355.85 L233.71 355.84 L234.24 355.25 L234.76 355.08 L235.29 355.49 L235.82 355.09 L236.35 354.80 L236.87 354.75 L237.40 354.90 L237.92 354.95 L238.44 354.78 L238.95 355.32 L239.47 354.79 L239.99 354.66 L240.51 354.58 L241.03 354.06 L241.55 354.54 L242.06 355.20 L242.58 354.90 L243.10 354.90 L243.62 354.63 L244.14 354.63 L244.65 354.38 L245.17 354.34 L245.69 354.28 L246.21 354.04 L246.73 353.86 L247.25 354.06 L247.76 353.92 L248.28 353.90 L248.80 353.70 L249.33 353.60 L249.85 353.77 L250.38 353.50 L250.91 353.05 L251.44 352.53 L251.96 352.53 L252.49 352.00 L253.02 351.84 L253.55 352.30 L254.07 352.06 L254.60 352.30 L255.12 352.26 L255.64 352.19 L256.15 352.32 L256.67 352.01 L257.19 351.21 L257.71 351.15 L258.23 350.88 L258.75 350.90 L259.26 351.48 L259.78 351.63 L260.30 351.10 L260.84 351.39 L261.38 350.98 L261.91 350.43 L262.45 351.27 L262.99 351.13 L263.53 350.58 L264.06 350.71 L264.60 350.80 L265.16 351.20 L265.72 351.40 L266.28 351.58 L266.84 352.10 L267.40 352.30 L267.95 352.14 L268.50 352.31 L269.05 352.21 L269.60 352.61 L270.15 352.69 L270.70 352.70 L271.21 352.56 L271.73 352.73 L272.24 353.03 L272.76 352.93 L273.27 352.24 L273.79 352.47 L274.30 352.22 L274.81 352.40 L275.33 352.20 L275.84 352.32 L276.36 352.23 L276.87 351.96 L277.39 351.54 L277.90 351.50 L278.44 351.78 L278.97 351.49 L279.51 350.95 L280.05 351.27 L280.59 352.18 L281.12 352.16 L281.66 352.31 L282.20 352.20 L282.71 352.07 L283.23 352.79 L283.74 352.56 L284.26 352.90 L284.77 352.94 L285.29 353.38 L285.80 354.10 L286.33 354.03 L286.87 353.82 L287.40 354.01 L287.93 353.81 L288.47 353.15 L289.00 353.42 L289.53 353.15 L290.07 353.09 L290.60 353.62 L291.13 353.76 L291.67 353.74 L292.20 354.10 L292.71 353.84 L293.23 353.36 L293.74 353.03 L294.26 353.05 L294.77 353.12 L295.29 352.92 L295.80 353.53 L296.31 353.77 L296.83 353.82 L297.34 353.62 L297.86 353.60 L298.37 353.68 L298.89 353.58 L299.40 354.40 L300.10 356.36 L300.80 358.00 L301.32 357.97 L301.84 357.51 L302.35 357.73 L302.87 357.53 L303.39 357.75 L303.91 357.82 L304.43 357.46 L304.95 357.44 L305.46 357.35 L305.98 357.26 L306.50 357.20 L307.01 357.26 L307.53 357.24 L308.04 357.48 L308.56 357.66 L309.07 357.65 L309.59 357.65 L310.10 357.60 L310.61 357.54 L311.13 357.53 L311.64 357.62 L312.16 357.58 L312.67 357.14 L313.19 357.19 L313.70 357.00 L314.22 357.03 L314.74 357.69 L315.25 357.99 L315.77 357.41 L316.29 356.98 L316.81 357.27 L317.33 357.10 L317.85 356.72 L318.36 356.29 L318.88 356.28 L319.40 356.10 L319.93 356.21 L320.45 356.24 L320.98 356.36 L321.51 356.36 L322.04 356.26 L322.56 356.56 L323.09 357.07 L323.62 356.97 L324.15 357.04 L324.67 357.66 L325.20 357.50 L325.72 357.23 L326.24 357.37 L326.75 357.60 L327.27 357.61 L327.79 357.90 L328.31 357.88 L328.83 357.94 L329.35 357.94 L329.86 358.03 L330.38 358.05 L330.90 358.40 L331.42 358.58 L331.94 358.97 L332.45 358.94 L332.97 358.75 L333.49 358.61 L334.01 358.52 L334.53 358.60 L335.05 358.50 L335.56 358.57 L336.08 358.67 L336.60 358.40 L337.18 357.74 L337.76 357.74 L338.34 357.26 L338.92 357.40 L339.50 357.00 L340.02 356.69 L340.54 356.42 L341.05 356.25 L341.57 356.96 L342.09 356.52 L342.61 355.95 L343.13 355.75 L343.65 355.80 L344.16 356.41 L344.68 356.71 L345.20 356.50 L345.73 356.78 L346.25 356.99 L346.78 356.68 L347.31 356.71 L347.84 356.68 L348.36 356.51 L348.89 356.26 L349.42 355.98 L349.95 355.97 L350.47 355.70 L351.00 355.80 L351.52 355.91 L352.04 355.40 L352.55 355.44 L353.07 355.32 L353.59 355.46 L354.11 355.28 L354.63 355.53 L355.15 355.68 L355.66 355.85 L356.18 355.95 L356.70 355.50 L357.22 355.45 L357.74 355.73 L358.25 355.94 L358.77 356.08 L359.29 356.05 L359.81 356.00 L360.33 355.60 L360.85 355.08 L361.36 355.00 L361.88 355.20 L362.40 355.10 L362.93 355.09 L363.45 355.17 L363.98 355.67 L364.51 355.64 L365.04 355.76 L365.56 355.99 L366.09 356.41 L366.62 356.65 L367.15 356.66 L367.67 356.66 L368.20 356.50 L368.72 356.52 L369.25 356.85 L369.77 356.97 L370.30 356.93 L370.82 356.72 L371.35 356.70 L371.88 356.97 L372.40 357.20 L372.95 357.20 L373.50 357.31 L374.05 357.50 L374.60 357.45 L375.15 357.50 L375.70 356.90 L376.24 357.27 L376.77 357.38 L377.31 357.65 L377.85 357.62 L378.39 357.75 L378.93 357.67 L379.46 357.85 L380.00 357.80 L380.58 358.39 L381.16 358.64 L381.74 359.01 L382.32 359.20 L382.90 359.50 L383.44 359.13 L383.97 358.72 L384.51 358.61 L385.05 358.24 L385.59 357.75 L386.12 357.44 L386.66 357.76 L387.20 357.80 L387.71 357.74 L388.23 357.69 L388.74 357.65 L389.26 357.63 L389.77 358.08 L390.29 358.34 L390.80 358.27 L391.31 357.72 L391.83 357.38 L392.34 357.32 L392.86 357.09 L393.37 357.09 L393.89 356.89 L394.40 356.90 L394.91 357.05 L395.41 356.96 L395.92 356.67 L396.43 356.63 L396.94 356.48 L397.44 356.28 L397.95 356.34 L398.46 356.68 L398.96 356.62 L399.47 356.55 L399.98 356.31 L400.49 356.42 L400.99 356.52 L401.50 356.60 L402.04 357.04 L402.57 357.15 L403.11 357.45 L403.65 357.41 L404.19 357.54 L404.73 357.38 L405.26 357.61 L405.80 358.00 L406.31 357.79 L406.83 357.60 L407.34 357.68 L407.86 357.69 L408.37 357.91 L408.89 357.28 L409.40 357.15 L409.91 357.29 L410.43 357.35 L410.94 357.10 L411.46 357.29 L411.97 357.33 L412.49 357.35 L413.00 357.30 L413.51 357.25 L414.01 357.39 L414.52 357.02 L415.03 356.14 L415.54 356.28 L416.04 355.63 L416.55 355.67 L417.06 355.66 L417.56 355.73 L418.07 355.41 L418.58 355.54 L419.09 355.44 L419.59 355.29 L420.10 355.20 L420.61 354.86 L421.13 355.20 L421.64 354.92 L422.16 354.81 L422.67 354.60 L423.19 354.55 L423.70 354.46 L424.21 354.27 L424.73 354.17 L425.24 354.11 L425.76 354.07 L426.27 354.26 L426.79 354.13 L427.30 354.00 L427.82 354.17 L428.34 354.16 L428.85 354.31 L429.37 354.51 L429.89 353.89 L430.41 353.95 L430.93 353.85 L431.45 353.41 L431.96 353.07 L432.48 352.67 L433.00 353.00 L433.53 353.38 L434.05 353.43 L434.58 353.43 L435.11 353.14 L435.64 353.79 L436.16 354.27 L436.69 354.38 L437.22 354.18 L437.75 354.18 L438.27 354.02 L438.80 353.70 L439.32 353.24 L439.84 352.82 L440.35 352.48 L440.87 352.45 L441.39 352.02 L441.91 352.01 L442.43 351.93 L442.95 352.06 L443.46 352.32 L443.98 352.86 L444.50 353.00 L445.01 352.78 L445.53 352.61 L446.04 353.34 L446.56 352.92 L447.07 352.84 L447.59 353.10 L448.10 353.00 L448.62 352.30 L449.15 351.99 L449.68 351.43 L450.20 350.60 L450.71 350.74 L451.23 350.78 L451.74 350.93 L452.26 351.06 L452.77 350.91 L453.29 350.88 L453.80 350.90 L454.31 350.78 L454.83 350.55 L455.34 350.80 L455.86 350.01 L456.37 349.87 L456.89 350.16 L457.40 350.20 L457.92 349.69 L458.44 349.24 L458.95 349.76 L459.47 349.85 L459.99 349.70 L460.51 349.60 L461.03 349.37 L461.55 349.36 L462.06 348.93 L462.58 348.86 L463.10 348.70 L463.63 348.55 L464.15 348.66 L464.68 347.81 L465.21 347.56 L465.74 347.40 L466.26 347.25 L466.79 347.02 L467.32 346.95 L467.85 347.13 L468.37 346.74 L468.90 346.60 L469.46 346.59 L470.02 346.22 L470.58 346.31 L471.14 345.75 L471.70 345.90 L472.22 346.34 L472.74 347.20 L473.26 348.04 L473.78 348.04 L474.30 348.70 L474.87 348.39 L475.43 347.93 L476.00 347.30 L476.55 348.81 L477.10 350.10 L477.65 351.40 L478.20 352.68 L478.75 353.99 L479.30 355.20 L479.82 355.80 L480.35 356.82 L480.88 356.96 L481.40 358.00 L481.90 356.37 L482.40 354.74 L482.90 353.00 L483.50 354.36 L484.10 355.76 L484.70 356.89 L485.30 358.00 L485.82 357.22 L486.34 356.38 L486.86 355.94 L487.38 355.38 L487.90 355.20 L488.42 354.84 L488.94 354.59 L489.45 354.69 L489.97 354.62 L490.49 354.76 L491.01 354.59 L491.53 354.98 L492.05 354.96 L492.56 355.12 L493.08 355.47 L493.60 355.20 L494.13 354.98 L494.65 354.59 L495.18 354.70 L495.71 354.10 L496.24 353.85 L496.76 353.56 L497.29 353.68 L497.82 354.02 L498.35 353.92 L498.87 354.32 L499.40 354.40 L499.96 354.40 L500.52 354.73 L501.08 354.82 L501.64 355.41 L502.20 355.90 L502.74 355.68 L503.27 355.16 L503.81 354.80 L504.35 354.17 L504.89 353.86 L505.43 353.95 L505.96 353.59 L506.50 353.70 L507.04 353.50 L507.57 353.17 L508.11 353.09 L508.65 352.43 L509.19 352.65 L509.73 352.49 L510.26 351.91 L510.80 351.90 L511.32 351.51 L511.84 351.70 L512.35 351.98 L512.87 352.18 L513.39 351.73 L513.91 351.53 L514.43 351.76 L514.95 351.81 L515.46 351.88 L515.98 352.49 L516.50 352.70 L517.04 352.61 L517.58 352.24 L518.11 352.03 L518.65 351.57 L519.19 351.31 L519.72 351.33 L520.26 350.91 L520.80 350.90 L521.31 351.14 L521.83 351.70 L522.34 351.71 L522.86 351.89 L523.37 352.31 L523.89 352.87 L524.40 353.30 L524.90 352.61 L525.40 352.71 L525.90 352.33 L526.40 352.45 L526.90 352.33 L527.40 352.21 L527.90 352.22 L528.40 352.53 L528.90 352.67 L529.40 352.99 L529.90 353.15 L530.40 353.18 L530.90 353.70 L531.42 354.33 L531.94 354.20 L532.45 354.31 L532.97 353.98 L533.49 354.06 L534.01 353.90 L534.53 354.34 L535.05 354.52 L535.56 354.66 L536.08 355.04 L536.60 355.20 L537.12 354.44 L537.64 354.85 L538.15 355.27 L538.67 355.29 L539.19 355.60 L539.71 355.71 L540.23 355.32 L540.75 354.89 L541.26 355.26 L541.78 355.48 L542.30 355.90 L542.84 355.93 L543.38 355.42 L543.91 355.15 L544.45 354.86 L544.99 354.60 L545.52 354.28 L546.06 353.67 L546.60 353.30 L547.10 352.82 L547.60 353.02 L548.10 352.95 L548.60 352.80 L549.10 352.97 L549.60 353.13 L550.10 353.28 L550.60 353.13 L551.10 353.01 L551.60 353.00 L552.18 353.36 L552.76 353.65 L553.34 353.74 L553.92 354.19 L554.50 354.40 L555.01 354.17 L555.53 353.67 L556.04 352.79 L556.56 352.61 L557.07 352.50 L557.59 352.24 L558.10 352.30 L558.62 352.36 L559.14 352.31 L559.65 352.68 L560.17 352.79 L560.69 352.59 L561.21 352.65 L561.73 352.54 L562.25 352.26 L562.76 352.48 L563.28 352.45 L563.80 352.30 L564.33 351.97 L564.85 352.28 L565.38 352.43 L565.91 352.52 L566.44 351.87 L566.96 351.09 L567.49 350.78 L568.02 350.51 L568.55 350.40 L569.07 350.15 L569.60 350.10 L570.12 349.53 L570.64 349.50 L571.15 349.20 L571.67 349.25 L572.19 349.18 L572.71 348.34 L573.23 348.07 L573.75 348.25 L574.26 348.38 L574.78 348.42 L575.30 348.00 L575.82 347.68 L576.35 347.77 L576.88 347.19 L577.40 347.30 L577.91 347.48 L578.43 348.08 L578.94 348.82 L579.46 349.06 L579.97 349.05 L580.49 349.09 L581.00 349.40 L581.50 348.66 L582.00 349.06 L582.50 349.21 L583.00 349.71 L583.50 350.55 L584.00 350.00 L584.50 349.76 L585.00 349.90 L585.50 349.53 L586.00 349.65 L586.50 350.42 L587.00 350.17 L587.50 349.98 L588.00 349.98 L588.50 350.42 L589.00 350.17 L589.50 350.46 L590.00 350.60 L590.50 350.57 L591.00 350.02 L591.50 350.01 L592.00 350.07 L592.50 349.64 L593.00 350.42 L593.50 350.46 L594.00 350.18 L594.50 350.29 L595.00 350.20 L595.50 350.23 L596.00 349.87 L596.50 350.20 L597.00 350.23 L597.50 350.11 L598.00 350.42 L598.50 350.14 L599.00 350.33 L599.50 350.52 L600.00 350.90 L600.52 351.36 L601.04 351.54 L601.55 351.73 L602.07 351.51 L602.59 350.73 L603.11 351.04 L603.63 351.33 L604.15 350.93 L604.66 350.20 L605.18 349.83 L605.70 349.40 L606.23 349.66 L606.75 350.07 L607.28 350.04 L607.81 349.78 L608.34 350.17 L608.86 350.24 L609.39 349.91 L609.92 349.87 L610.45 350.20 L610.97 350.44 L611.50 350.10 L612.00 349.87 L612.50 349.87 L613.00 350.25 L613.50 350.45 L614.00 351.03 L614.50 350.69 L615.00 350.71 L615.50 350.39 L616.00 350.87 L616.50 350.40 L617.00 350.04 L617.50 350.20 L618.00 349.83 L618.50 349.78 L619.00 349.32 L619.50 349.11 L620.00 349.77 L620.50 349.25 L621.00 349.02 L621.50 349.00 L622.01 349.11 L622.53 349.70 L623.04 349.25 L623.56 349.68 L624.07 349.86 L624.59 349.71 L625.10 349.66 L625.61 349.39 L626.13 349.75 L626.64 349.75 L627.16 349.52 L627.67 349.61 L628.19 348.86 L628.70 348.70 L629.22 348.30 L629.74 348.46 L630.25 348.48 L630.77 348.33 L631.29 348.25 L631.81 348.25 L632.33 348.31 L632.85 348.48 L633.36 348.82 L633.88 349.51 L634.40 349.90 L634.94 349.92 L635.48 349.94 L636.01 349.93 L636.55 350.26 L637.09 350.06 L637.62 350.33 L638.16 349.94 L638.70 349.40 L639.24 349.41 L639.78 349.91 L640.31 350.19 L640.85 350.01 L641.39 349.34 L641.92 349.73 L642.46 350.31 L643.00 350.40 L643.56 349.44 L644.12 348.86 L644.68 348.19 L645.24 347.64 L645.80 347.60 L646.33 347.55 L646.85 347.00 L647.38 347.19 L647.91 346.55 L648.44 346.84 L648.96 346.82 L649.49 346.96 L650.02 347.02 L650.55 346.94 L651.07 346.56 L651.60 346.60 L652.11 346.64 L652.61 345.76 L653.12 346.15 L653.63 345.87 L654.14 346.39 L654.64 346.94 L655.15 346.55 L655.66 346.46 L656.16 346.92 L656.67 347.08 L657.18 346.73 L657.69 346.02 L658.19 346.52 L658.70 346.60 L659.21 347.41 L659.73 347.34 L660.24 347.99 L660.76 348.26 L661.27 347.74 L661.79 348.13 L662.30 347.97 L662.81 347.73 L663.33 347.71 L663.84 347.97 L664.36 347.41 L664.87 347.73 L665.39 347.98 L665.90 348.70 L666.41 348.19 L666.93 348.05 L667.44 347.84 L667.96 347.65 L668.47 347.50 L668.99 347.48 L669.50 347.55 L670.01 347.40 L670.53 347.34 L671.04 347.30 L671.56 347.04 L672.07 346.63 L672.59 346.71 L673.10 346.30 L673.64 346.56 L674.17 346.03 L674.71 346.76 L675.25 346.98 L675.79 346.97 L676.33 346.97 L676.86 346.85 L677.40 346.60 L677.90 347.38 L678.40 347.49 L678.90 347.12 L679.40 346.91 L679.90 347.11 L680.40 347.80 L680.90 348.16 L681.40 348.12 L681.90 348.05 L682.40 348.40 L682.91 348.57 L683.43 348.58 L683.94 348.39 L684.46 347.84 L684.97 347.44 L685.49 347.40 L686.00 347.00 L686.51 346.75 L687.01 346.36 L687.52 346.13 L688.03 346.49 L688.54 346.67 L689.04 346.80 L689.55 346.61 L690.06 346.35 L690.56 346.85 L691.07 346.88 L691.58 347.00 L692.09 345.91 L692.59 346.30 L693.10 346.60 L693.61 346.29 L694.13 346.22 L694.64 346.49 L695.16 346.93 L695.67 347.07 L696.19 347.26 L696.70 347.34 L697.21 347.30 L697.73 347.95 L698.24 348.40 L698.76 348.60 L699.27 348.58 L699.79 348.51 L700.30 348.70 L700.81 348.39 L701.33 348.60 L701.84 348.43 L702.36 348.64 L702.87 348.00 L703.39 348.04 L703.90 348.00 L704.42 348.24 L704.93 348.00 L705.45 348.10 L705.97 348.16 L706.48 348.40 L707.00 348.70" fill="none" stroke="#b7e14f" stroke-width="1.65" stroke-linejoin="round" stroke-linecap="butt"/>
<line x1="169.2" x2="189.6" y1="421.7" y2="421.7" stroke="#1e2761" stroke-width="1.5"/>
<text x="191.3" y="425.2" font-size="12.30" fill="#000" text-anchor="start" font-weight="normal" textLength="71.8" lengthAdjust="spacingAndGlyphs" stroke="#000" stroke-width="0.22">Carbon price</text>
<line x1="292.2" x2="312.3" y1="421.7" y2="421.7" stroke="#5cb531" stroke-width="1.5"/>
<text x="314.7" y="425.2" font-size="12.30" fill="#000" text-anchor="start" font-weight="normal" textLength="27.4" lengthAdjust="spacingAndGlyphs" stroke="#000" stroke-width="0.22">E.ON</text>
<line x1="370.9" x2="391.4" y1="421.7" y2="421.7" stroke="#0a6bb5" stroke-width="1.5"/>
<text x="392.9" y="425.2" font-size="12.30" fill="#000" text-anchor="start" font-weight="normal" textLength="48.0" lengthAdjust="spacingAndGlyphs" stroke="#000" stroke-width="0.22">Verbund</text>
<line x1="469.9" x2="490.6" y1="421.7" y2="421.7" stroke="#7b2a87" stroke-width="1.5"/>
<text x="492.3" y="425.2" font-size="12.30" fill="#000" text-anchor="start" font-weight="normal" textLength="37.9" lengthAdjust="spacingAndGlyphs" stroke="#000" stroke-width="0.22">Orsted</text>
<line x1="559.7" x2="580.0" y1="421.7" y2="421.7" stroke="#b7e14f" stroke-width="1.5"/>
<text x="581.3" y="425.2" font-size="12.30" fill="#000" text-anchor="start" font-weight="normal" textLength="19.5" lengthAdjust="spacingAndGlyphs" stroke="#000" stroke-width="0.22">SSE</text>
<text x="25.1" y="456.6" font-size="11.20" fill="#000" text-anchor="start" font-weight="normal" textLength="37.0" lengthAdjust="spacingAndGlyphs" stroke="#000" stroke-width="0.22">Source:</text>
<text x="65.4" y="456.6" font-size="11.20" fill="#000" text-anchor="start" font-weight="normal" textLength="38.2" lengthAdjust="spacingAndGlyphs" stroke="#000" stroke-width="0.22">FactSet,</text>
<text x="107.4" y="456.6" font-size="11.20" fill="#000" text-anchor="start" font-weight="normal" textLength="11.2" lengthAdjust="spacingAndGlyphs" stroke="#000" stroke-width="0.22">as</text>
<text x="121.0" y="456.6" font-size="11.20" fill="#000" text-anchor="start" font-weight="normal" textLength="9.8" lengthAdjust="spacingAndGlyphs" stroke="#000" stroke-width="0.22">at</text>
<text x="134.1" y="456.6" font-size="11.20" fill="#000" text-anchor="start" font-weight="normal" textLength="11.2" lengthAdjust="spacingAndGlyphs" stroke="#000" stroke-width="0.22">11</text>
<text x="148.6" y="456.6" font-size="11.20" fill="#000" text-anchor="start" font-weight="normal" textLength="45.2" lengthAdjust="spacingAndGlyphs" stroke="#000" stroke-width="0.22">February</text>
<text x="196.9" y="456.6" font-size="11.20" fill="#000" text-anchor="start" font-weight="normal" textLength="25.8" lengthAdjust="spacingAndGlyphs" stroke="#000" stroke-width="0.22">2022.</text>
<text x="226.2" y="456.6" font-size="11.20" fill="#000" text-anchor="start" font-weight="normal" textLength="17.1" lengthAdjust="spacingAndGlyphs" stroke="#000" stroke-width="0.22">For</text>
<text x="246.1" y="456.6" font-size="11.20" fill="#000" text-anchor="start" font-weight="normal" textLength="52.0" lengthAdjust="spacingAndGlyphs" stroke="#000" stroke-width="0.22">illustrative</text>
<text x="301.4" y="456.6" font-size="11.20" fill="#000" text-anchor="start" font-weight="normal" textLength="46.6" lengthAdjust="spacingAndGlyphs" stroke="#000" stroke-width="0.22">purposes</text>
<text x="351.0" y="456.6" font-size="11.20" fill="#000" text-anchor="start" font-weight="normal" textLength="21.0" lengthAdjust="spacingAndGlyphs" stroke="#000" stroke-width="0.22">only</text>
<text x="375.0" y="456.6" font-size="11.20" fill="#000" text-anchor="start" font-weight="normal" textLength="18.8" lengthAdjust="spacingAndGlyphs" stroke="#000" stroke-width="0.22">and</text>
<text x="397.1" y="456.6" font-size="11.20" fill="#000" text-anchor="start" font-weight="normal" textLength="16.1" lengthAdjust="spacingAndGlyphs" stroke="#000" stroke-width="0.22">not</text>
<text x="416.9" y="456.6" font-size="11.20" fill="#000" text-anchor="start" font-weight="normal" textLength="5.7" lengthAdjust="spacingAndGlyphs" stroke="#000" stroke-width="0.22">a</text>
<text x="425.8" y="456.6" font-size="11.20" fill="#000" text-anchor="start" font-weight="normal" textLength="87.8" lengthAdjust="spacingAndGlyphs" stroke="#000" stroke-width="0.22">recommendation</text>
<text x="516.6" y="456.6" font-size="11.20" fill="#000" text-anchor="start" font-weight="normal" textLength="10.1" lengthAdjust="spacingAndGlyphs" stroke="#000" stroke-width="0.22">to</text>
<text x="530.0" y="456.6" font-size="11.20" fill="#000" text-anchor="start" font-weight="normal" textLength="42.8" lengthAdjust="spacingAndGlyphs" stroke="#000" stroke-width="0.22">buy/sell.</text>
<text x="576.0" y="456.6" font-size="11.20" fill="#000" text-anchor="start" font-weight="normal" textLength="38.2" lengthAdjust="spacingAndGlyphs" stroke="#000" stroke-width="0.22">604132.</text>
</svg></body></html>
